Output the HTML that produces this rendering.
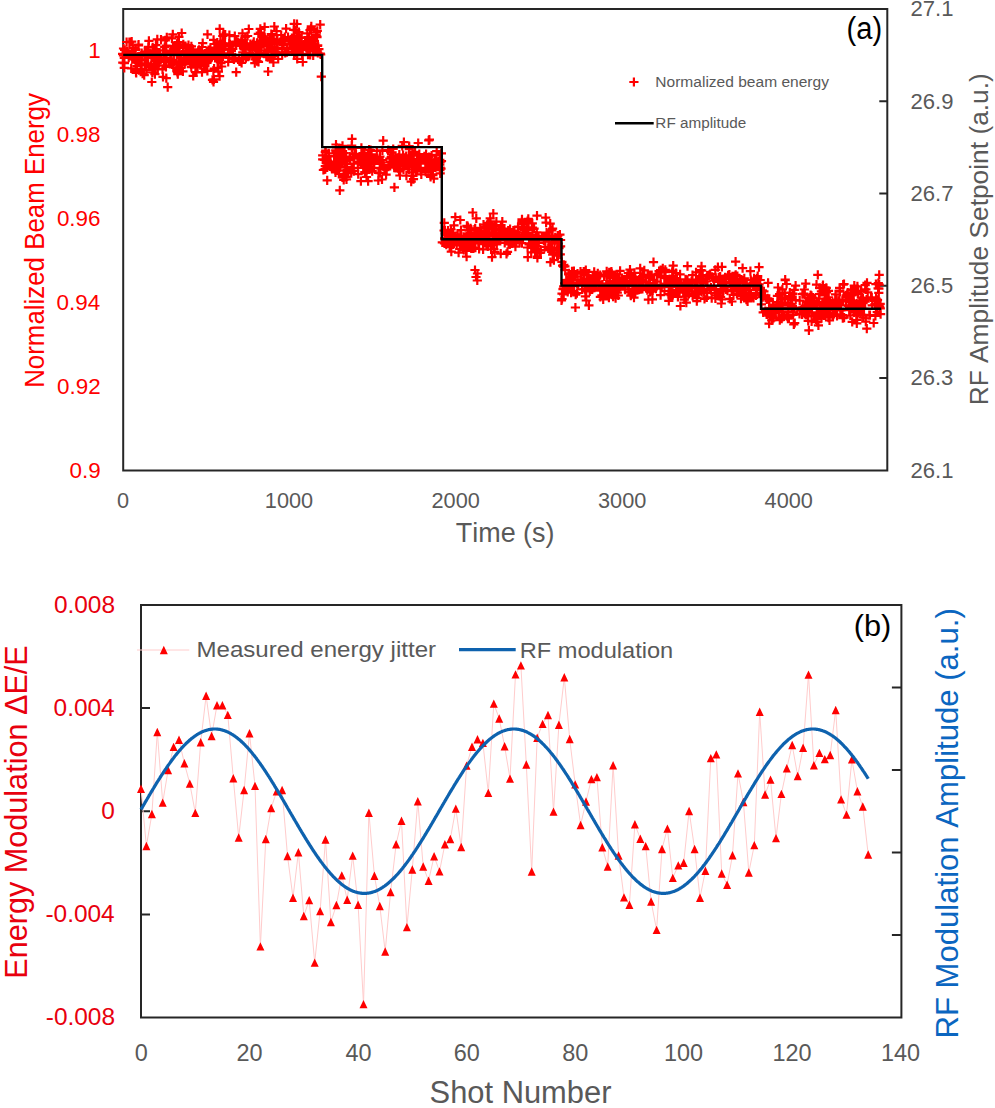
<!DOCTYPE html><html><head><meta charset="utf-8"><style>html,body{margin:0;padding:0;background:#fff;overflow:hidden}</style></head><body><svg width="995" height="1108" viewBox="0 0 995 1108" style="display:block;font-family:'Liberation Sans',sans-serif;font-kerning:none">
<rect width="995" height="1108" fill="#fff"/>
<path d="M123.2,9.0H887.3V470.4H123.2Z" fill="none" stroke="#262626" stroke-width="2"/>
<path d="M879.3,101.28H887.3M879.3,193.56H887.3M879.3,285.84H887.3M879.3,378.12H887.3" stroke="#262626" stroke-width="2"/>
<path d="M118.0,53.8h9.2m-4.6-4.6v9.2M118.2,62.7h9.2m-4.6-4.6v9.2M118.8,55.4h9.2m-4.6-4.6v9.2M118.9,48.5h9.2m-4.6-4.6v9.2M119.7,57.8h9.2m-4.6-4.6v9.2M119.7,67.9h9.2m-4.6-4.6v9.2M119.8,63.1h9.2m-4.6-4.6v9.2M120.0,50.0h9.2m-4.6-4.6v9.2M122.0,42.0h9.2m-4.6-4.6v9.2M122.3,51.3h9.2m-4.6-4.6v9.2M123.3,54.2h9.2m-4.6-4.6v9.2M124.1,57.7h9.2m-4.6-4.6v9.2M124.8,42.2h9.2m-4.6-4.6v9.2M124.8,55.6h9.2m-4.6-4.6v9.2M124.9,42.0h9.2m-4.6-4.6v9.2M125.1,53.8h9.2m-4.6-4.6v9.2M126.6,68.3h9.2m-4.6-4.6v9.2M126.8,54.9h9.2m-4.6-4.6v9.2M127.1,41.7h9.2m-4.6-4.6v9.2M127.4,52.1h9.2m-4.6-4.6v9.2M127.5,55.0h9.2m-4.6-4.6v9.2M128.2,47.8h9.2m-4.6-4.6v9.2M129.0,54.0h9.2m-4.6-4.6v9.2M129.2,55.6h9.2m-4.6-4.6v9.2M129.5,55.1h9.2m-4.6-4.6v9.2M130.3,59.7h9.2m-4.6-4.6v9.2M130.9,49.9h9.2m-4.6-4.6v9.2M131.1,62.6h9.2m-4.6-4.6v9.2M131.1,61.4h9.2m-4.6-4.6v9.2M131.1,49.4h9.2m-4.6-4.6v9.2M131.4,70.4h9.2m-4.6-4.6v9.2M131.4,71.8h9.2m-4.6-4.6v9.2M131.6,57.8h9.2m-4.6-4.6v9.2M131.6,72.8h9.2m-4.6-4.6v9.2M132.1,60.4h9.2m-4.6-4.6v9.2M132.5,66.0h9.2m-4.6-4.6v9.2M133.5,57.1h9.2m-4.6-4.6v9.2M133.8,45.5h9.2m-4.6-4.6v9.2M134.0,44.7h9.2m-4.6-4.6v9.2M134.1,57.8h9.2m-4.6-4.6v9.2M134.9,59.4h9.2m-4.6-4.6v9.2M134.9,56.4h9.2m-4.6-4.6v9.2M135.3,60.2h9.2m-4.6-4.6v9.2M136.1,68.9h9.2m-4.6-4.6v9.2M136.4,59.4h9.2m-4.6-4.6v9.2M137.0,60.5h9.2m-4.6-4.6v9.2M137.1,53.2h9.2m-4.6-4.6v9.2M137.1,64.8h9.2m-4.6-4.6v9.2M138.0,73.7h9.2m-4.6-4.6v9.2M139.6,75.2h9.2m-4.6-4.6v9.2M140.1,52.1h9.2m-4.6-4.6v9.2M140.2,64.6h9.2m-4.6-4.6v9.2M140.8,52.6h9.2m-4.6-4.6v9.2M141.0,65.5h9.2m-4.6-4.6v9.2M141.8,55.9h9.2m-4.6-4.6v9.2M142.0,70.2h9.2m-4.6-4.6v9.2M142.1,63.3h9.2m-4.6-4.6v9.2M142.2,53.3h9.2m-4.6-4.6v9.2M142.5,51.5h9.2m-4.6-4.6v9.2M142.8,55.1h9.2m-4.6-4.6v9.2M143.0,52.0h9.2m-4.6-4.6v9.2M143.6,57.9h9.2m-4.6-4.6v9.2M143.7,46.9h9.2m-4.6-4.6v9.2M144.3,40.9h9.2m-4.6-4.6v9.2M145.1,53.4h9.2m-4.6-4.6v9.2M146.4,65.8h9.2m-4.6-4.6v9.2M146.4,53.9h9.2m-4.6-4.6v9.2M146.8,57.0h9.2m-4.6-4.6v9.2M147.2,82.0h9.2m-4.6-4.6v9.2M147.7,72.5h9.2m-4.6-4.6v9.2M147.8,67.5h9.2m-4.6-4.6v9.2M148.0,67.9h9.2m-4.6-4.6v9.2M148.1,57.0h9.2m-4.6-4.6v9.2M148.1,47.3h9.2m-4.6-4.6v9.2M149.2,51.5h9.2m-4.6-4.6v9.2M149.7,53.5h9.2m-4.6-4.6v9.2M150.2,64.4h9.2m-4.6-4.6v9.2M150.2,67.9h9.2m-4.6-4.6v9.2M150.3,58.9h9.2m-4.6-4.6v9.2M150.3,74.1h9.2m-4.6-4.6v9.2M150.6,67.1h9.2m-4.6-4.6v9.2M150.9,52.3h9.2m-4.6-4.6v9.2M150.9,65.4h9.2m-4.6-4.6v9.2M151.3,45.1h9.2m-4.6-4.6v9.2M151.3,63.5h9.2m-4.6-4.6v9.2M151.3,65.8h9.2m-4.6-4.6v9.2M151.5,60.7h9.2m-4.6-4.6v9.2M151.5,49.0h9.2m-4.6-4.6v9.2M151.6,58.1h9.2m-4.6-4.6v9.2M151.7,60.8h9.2m-4.6-4.6v9.2M152.0,50.7h9.2m-4.6-4.6v9.2M152.5,57.2h9.2m-4.6-4.6v9.2M152.6,62.8h9.2m-4.6-4.6v9.2M152.7,39.3h9.2m-4.6-4.6v9.2M153.0,68.9h9.2m-4.6-4.6v9.2M153.0,59.6h9.2m-4.6-4.6v9.2M153.2,56.3h9.2m-4.6-4.6v9.2M153.2,68.9h9.2m-4.6-4.6v9.2M153.4,56.3h9.2m-4.6-4.6v9.2M153.5,57.8h9.2m-4.6-4.6v9.2M153.7,59.4h9.2m-4.6-4.6v9.2M155.1,58.5h9.2m-4.6-4.6v9.2M155.7,55.4h9.2m-4.6-4.6v9.2M156.2,58.1h9.2m-4.6-4.6v9.2M156.4,39.7h9.2m-4.6-4.6v9.2M157.9,69.3h9.2m-4.6-4.6v9.2M158.4,76.8h9.2m-4.6-4.6v9.2M158.5,50.3h9.2m-4.6-4.6v9.2M159.5,60.6h9.2m-4.6-4.6v9.2M159.7,53.8h9.2m-4.6-4.6v9.2M159.8,65.4h9.2m-4.6-4.6v9.2M160.0,53.8h9.2m-4.6-4.6v9.2M160.1,47.2h9.2m-4.6-4.6v9.2M160.2,59.0h9.2m-4.6-4.6v9.2M160.3,62.1h9.2m-4.6-4.6v9.2M160.4,55.2h9.2m-4.6-4.6v9.2M160.7,40.3h9.2m-4.6-4.6v9.2M161.3,66.9h9.2m-4.6-4.6v9.2M161.6,45.7h9.2m-4.6-4.6v9.2M161.7,78.1h9.2m-4.6-4.6v9.2M161.9,53.9h9.2m-4.6-4.6v9.2M161.9,57.8h9.2m-4.6-4.6v9.2M162.2,37.4h9.2m-4.6-4.6v9.2M163.1,87.1h9.2m-4.6-4.6v9.2M165.6,62.4h9.2m-4.6-4.6v9.2M165.7,58.5h9.2m-4.6-4.6v9.2M166.3,50.5h9.2m-4.6-4.6v9.2M166.4,59.9h9.2m-4.6-4.6v9.2M166.9,54.6h9.2m-4.6-4.6v9.2M167.1,51.8h9.2m-4.6-4.6v9.2M167.3,38.5h9.2m-4.6-4.6v9.2M167.3,51.0h9.2m-4.6-4.6v9.2M167.5,64.4h9.2m-4.6-4.6v9.2M168.2,46.2h9.2m-4.6-4.6v9.2M168.2,34.4h9.2m-4.6-4.6v9.2M168.7,67.3h9.2m-4.6-4.6v9.2M168.7,64.3h9.2m-4.6-4.6v9.2M169.1,48.8h9.2m-4.6-4.6v9.2M169.3,61.3h9.2m-4.6-4.6v9.2M169.4,54.3h9.2m-4.6-4.6v9.2M169.8,48.1h9.2m-4.6-4.6v9.2M169.8,51.8h9.2m-4.6-4.6v9.2M170.9,51.1h9.2m-4.6-4.6v9.2M171.7,63.3h9.2m-4.6-4.6v9.2M172.4,43.8h9.2m-4.6-4.6v9.2M172.4,54.6h9.2m-4.6-4.6v9.2M172.7,71.8h9.2m-4.6-4.6v9.2M172.8,44.4h9.2m-4.6-4.6v9.2M172.9,69.2h9.2m-4.6-4.6v9.2M172.9,44.8h9.2m-4.6-4.6v9.2M173.2,74.2h9.2m-4.6-4.6v9.2M173.4,42.0h9.2m-4.6-4.6v9.2M174.0,70.8h9.2m-4.6-4.6v9.2M174.1,61.9h9.2m-4.6-4.6v9.2M174.2,52.0h9.2m-4.6-4.6v9.2M174.3,36.8h9.2m-4.6-4.6v9.2M175.1,53.2h9.2m-4.6-4.6v9.2M175.2,62.3h9.2m-4.6-4.6v9.2M175.7,57.3h9.2m-4.6-4.6v9.2M176.1,67.9h9.2m-4.6-4.6v9.2M176.5,58.1h9.2m-4.6-4.6v9.2M177.1,33.0h9.2m-4.6-4.6v9.2M177.6,63.8h9.2m-4.6-4.6v9.2M178.3,71.3h9.2m-4.6-4.6v9.2M178.3,47.8h9.2m-4.6-4.6v9.2M178.5,45.9h9.2m-4.6-4.6v9.2M178.7,44.3h9.2m-4.6-4.6v9.2M178.8,61.7h9.2m-4.6-4.6v9.2M179.9,54.0h9.2m-4.6-4.6v9.2M180.2,63.8h9.2m-4.6-4.6v9.2M180.8,61.4h9.2m-4.6-4.6v9.2M180.9,46.2h9.2m-4.6-4.6v9.2M180.9,51.1h9.2m-4.6-4.6v9.2M181.8,51.9h9.2m-4.6-4.6v9.2M182.9,57.2h9.2m-4.6-4.6v9.2M183.5,54.4h9.2m-4.6-4.6v9.2M183.7,55.1h9.2m-4.6-4.6v9.2M183.8,52.4h9.2m-4.6-4.6v9.2M183.9,45.0h9.2m-4.6-4.6v9.2M184.1,51.3h9.2m-4.6-4.6v9.2M184.3,53.7h9.2m-4.6-4.6v9.2M184.4,49.7h9.2m-4.6-4.6v9.2M184.4,48.5h9.2m-4.6-4.6v9.2M185.0,58.3h9.2m-4.6-4.6v9.2M185.5,52.8h9.2m-4.6-4.6v9.2M185.6,63.5h9.2m-4.6-4.6v9.2M185.7,54.4h9.2m-4.6-4.6v9.2M185.8,55.6h9.2m-4.6-4.6v9.2M186.4,64.3h9.2m-4.6-4.6v9.2M186.7,67.2h9.2m-4.6-4.6v9.2M186.8,46.3h9.2m-4.6-4.6v9.2M186.9,58.0h9.2m-4.6-4.6v9.2M187.1,52.3h9.2m-4.6-4.6v9.2M187.8,55.6h9.2m-4.6-4.6v9.2M188.4,64.2h9.2m-4.6-4.6v9.2M188.5,49.4h9.2m-4.6-4.6v9.2M188.6,75.9h9.2m-4.6-4.6v9.2M188.7,56.1h9.2m-4.6-4.6v9.2M190.2,53.6h9.2m-4.6-4.6v9.2M190.8,72.2h9.2m-4.6-4.6v9.2M190.9,67.5h9.2m-4.6-4.6v9.2M191.0,58.0h9.2m-4.6-4.6v9.2M191.7,56.9h9.2m-4.6-4.6v9.2M191.8,72.5h9.2m-4.6-4.6v9.2M191.8,63.5h9.2m-4.6-4.6v9.2M192.1,60.1h9.2m-4.6-4.6v9.2M192.3,65.7h9.2m-4.6-4.6v9.2M193.0,66.5h9.2m-4.6-4.6v9.2M193.2,63.7h9.2m-4.6-4.6v9.2M193.3,61.1h9.2m-4.6-4.6v9.2M193.6,51.2h9.2m-4.6-4.6v9.2M193.8,54.9h9.2m-4.6-4.6v9.2M193.8,63.4h9.2m-4.6-4.6v9.2M194.0,52.6h9.2m-4.6-4.6v9.2M194.4,49.9h9.2m-4.6-4.6v9.2M194.6,57.0h9.2m-4.6-4.6v9.2M194.7,61.8h9.2m-4.6-4.6v9.2M195.7,51.2h9.2m-4.6-4.6v9.2M196.0,64.2h9.2m-4.6-4.6v9.2M197.1,54.7h9.2m-4.6-4.6v9.2M197.4,72.2h9.2m-4.6-4.6v9.2M197.4,47.0h9.2m-4.6-4.6v9.2M197.9,53.3h9.2m-4.6-4.6v9.2M198.1,43.2h9.2m-4.6-4.6v9.2M199.2,68.7h9.2m-4.6-4.6v9.2M200.0,58.1h9.2m-4.6-4.6v9.2M200.3,66.0h9.2m-4.6-4.6v9.2M200.4,63.6h9.2m-4.6-4.6v9.2M201.0,59.4h9.2m-4.6-4.6v9.2M202.0,52.3h9.2m-4.6-4.6v9.2M202.0,60.5h9.2m-4.6-4.6v9.2M202.4,51.8h9.2m-4.6-4.6v9.2M202.4,62.9h9.2m-4.6-4.6v9.2M202.6,55.0h9.2m-4.6-4.6v9.2M202.6,51.3h9.2m-4.6-4.6v9.2M202.8,61.3h9.2m-4.6-4.6v9.2M202.8,70.8h9.2m-4.6-4.6v9.2M202.9,34.3h9.2m-4.6-4.6v9.2M203.1,56.6h9.2m-4.6-4.6v9.2M203.1,59.4h9.2m-4.6-4.6v9.2M203.2,61.2h9.2m-4.6-4.6v9.2M203.8,60.4h9.2m-4.6-4.6v9.2M204.0,50.2h9.2m-4.6-4.6v9.2M204.5,50.7h9.2m-4.6-4.6v9.2M204.5,57.6h9.2m-4.6-4.6v9.2M204.9,54.0h9.2m-4.6-4.6v9.2M205.6,54.6h9.2m-4.6-4.6v9.2M205.8,47.8h9.2m-4.6-4.6v9.2M205.8,52.1h9.2m-4.6-4.6v9.2M207.8,55.6h9.2m-4.6-4.6v9.2M207.9,79.8h9.2m-4.6-4.6v9.2M208.0,51.9h9.2m-4.6-4.6v9.2M208.6,52.6h9.2m-4.6-4.6v9.2M208.8,70.5h9.2m-4.6-4.6v9.2M208.9,81.8h9.2m-4.6-4.6v9.2M209.0,39.9h9.2m-4.6-4.6v9.2M209.3,51.0h9.2m-4.6-4.6v9.2M209.3,79.3h9.2m-4.6-4.6v9.2M209.5,68.5h9.2m-4.6-4.6v9.2M209.9,55.5h9.2m-4.6-4.6v9.2M210.0,44.0h9.2m-4.6-4.6v9.2M210.5,56.1h9.2m-4.6-4.6v9.2M211.0,50.1h9.2m-4.6-4.6v9.2M211.3,47.7h9.2m-4.6-4.6v9.2M211.6,49.9h9.2m-4.6-4.6v9.2M212.3,58.7h9.2m-4.6-4.6v9.2M212.5,54.6h9.2m-4.6-4.6v9.2M212.7,42.7h9.2m-4.6-4.6v9.2M212.9,56.1h9.2m-4.6-4.6v9.2M213.0,67.8h9.2m-4.6-4.6v9.2M213.2,51.6h9.2m-4.6-4.6v9.2M213.3,45.8h9.2m-4.6-4.6v9.2M213.7,54.1h9.2m-4.6-4.6v9.2M213.8,71.7h9.2m-4.6-4.6v9.2M214.0,61.5h9.2m-4.6-4.6v9.2M214.2,53.0h9.2m-4.6-4.6v9.2M214.5,58.4h9.2m-4.6-4.6v9.2M215.0,76.1h9.2m-4.6-4.6v9.2M215.1,28.9h9.2m-4.6-4.6v9.2M215.3,56.7h9.2m-4.6-4.6v9.2M215.5,44.4h9.2m-4.6-4.6v9.2M215.8,41.3h9.2m-4.6-4.6v9.2M216.1,48.1h9.2m-4.6-4.6v9.2M216.3,56.8h9.2m-4.6-4.6v9.2M216.4,63.2h9.2m-4.6-4.6v9.2M216.5,44.2h9.2m-4.6-4.6v9.2M216.6,47.9h9.2m-4.6-4.6v9.2M217.1,66.5h9.2m-4.6-4.6v9.2M218.1,49.3h9.2m-4.6-4.6v9.2M218.2,36.0h9.2m-4.6-4.6v9.2M218.4,56.7h9.2m-4.6-4.6v9.2M218.8,34.3h9.2m-4.6-4.6v9.2M219.6,53.3h9.2m-4.6-4.6v9.2M220.4,43.3h9.2m-4.6-4.6v9.2M220.6,34.7h9.2m-4.6-4.6v9.2M220.9,46.5h9.2m-4.6-4.6v9.2M223.6,61.9h9.2m-4.6-4.6v9.2M224.1,49.0h9.2m-4.6-4.6v9.2M224.2,58.0h9.2m-4.6-4.6v9.2M224.6,45.9h9.2m-4.6-4.6v9.2M224.6,43.7h9.2m-4.6-4.6v9.2M224.8,53.4h9.2m-4.6-4.6v9.2M224.8,35.1h9.2m-4.6-4.6v9.2M225.5,44.4h9.2m-4.6-4.6v9.2M226.5,45.6h9.2m-4.6-4.6v9.2M226.6,45.4h9.2m-4.6-4.6v9.2M226.8,51.2h9.2m-4.6-4.6v9.2M227.8,57.5h9.2m-4.6-4.6v9.2M228.2,49.0h9.2m-4.6-4.6v9.2M229.3,59.3h9.2m-4.6-4.6v9.2M230.2,36.2h9.2m-4.6-4.6v9.2M230.6,57.6h9.2m-4.6-4.6v9.2M230.9,44.7h9.2m-4.6-4.6v9.2M231.6,72.1h9.2m-4.6-4.6v9.2M231.6,44.4h9.2m-4.6-4.6v9.2M231.9,41.5h9.2m-4.6-4.6v9.2M233.2,42.4h9.2m-4.6-4.6v9.2M234.4,60.0h9.2m-4.6-4.6v9.2M234.9,61.5h9.2m-4.6-4.6v9.2M235.3,44.6h9.2m-4.6-4.6v9.2M236.7,41.3h9.2m-4.6-4.6v9.2M237.0,62.8h9.2m-4.6-4.6v9.2M237.0,39.6h9.2m-4.6-4.6v9.2M237.4,42.9h9.2m-4.6-4.6v9.2M237.5,57.7h9.2m-4.6-4.6v9.2M237.6,59.4h9.2m-4.6-4.6v9.2M237.6,40.6h9.2m-4.6-4.6v9.2M237.9,33.4h9.2m-4.6-4.6v9.2M238.2,52.4h9.2m-4.6-4.6v9.2M239.5,49.3h9.2m-4.6-4.6v9.2M240.6,47.8h9.2m-4.6-4.6v9.2M240.6,36.8h9.2m-4.6-4.6v9.2M240.9,49.6h9.2m-4.6-4.6v9.2M241.0,45.6h9.2m-4.6-4.6v9.2M241.0,48.6h9.2m-4.6-4.6v9.2M241.3,58.1h9.2m-4.6-4.6v9.2M242.2,43.3h9.2m-4.6-4.6v9.2M243.0,36.0h9.2m-4.6-4.6v9.2M243.5,56.7h9.2m-4.6-4.6v9.2M244.2,29.0h9.2m-4.6-4.6v9.2M244.5,55.8h9.2m-4.6-4.6v9.2M245.2,49.4h9.2m-4.6-4.6v9.2M245.3,52.6h9.2m-4.6-4.6v9.2M245.7,44.2h9.2m-4.6-4.6v9.2M247.6,49.9h9.2m-4.6-4.6v9.2M247.9,54.2h9.2m-4.6-4.6v9.2M248.1,45.3h9.2m-4.6-4.6v9.2M248.3,44.0h9.2m-4.6-4.6v9.2M248.9,56.5h9.2m-4.6-4.6v9.2M249.2,41.9h9.2m-4.6-4.6v9.2M250.2,63.1h9.2m-4.6-4.6v9.2M250.2,46.4h9.2m-4.6-4.6v9.2M250.4,47.1h9.2m-4.6-4.6v9.2M250.7,59.4h9.2m-4.6-4.6v9.2M250.9,47.3h9.2m-4.6-4.6v9.2M251.3,56.7h9.2m-4.6-4.6v9.2M251.8,58.6h9.2m-4.6-4.6v9.2M252.2,48.4h9.2m-4.6-4.6v9.2M252.4,42.9h9.2m-4.6-4.6v9.2M252.5,61.1h9.2m-4.6-4.6v9.2M253.7,33.9h9.2m-4.6-4.6v9.2M253.9,61.9h9.2m-4.6-4.6v9.2M254.2,44.4h9.2m-4.6-4.6v9.2M254.5,50.4h9.2m-4.6-4.6v9.2M254.7,45.7h9.2m-4.6-4.6v9.2M255.7,28.9h9.2m-4.6-4.6v9.2M255.7,32.5h9.2m-4.6-4.6v9.2M256.4,33.4h9.2m-4.6-4.6v9.2M256.4,40.4h9.2m-4.6-4.6v9.2M256.7,52.9h9.2m-4.6-4.6v9.2M256.7,45.8h9.2m-4.6-4.6v9.2M257.9,36.8h9.2m-4.6-4.6v9.2M258.6,44.2h9.2m-4.6-4.6v9.2M258.9,39.0h9.2m-4.6-4.6v9.2M259.1,42.7h9.2m-4.6-4.6v9.2M259.2,43.9h9.2m-4.6-4.6v9.2M259.7,40.2h9.2m-4.6-4.6v9.2M260.0,27.0h9.2m-4.6-4.6v9.2M260.2,37.9h9.2m-4.6-4.6v9.2M261.7,56.7h9.2m-4.6-4.6v9.2M261.8,44.0h9.2m-4.6-4.6v9.2M262.1,39.9h9.2m-4.6-4.6v9.2M262.6,45.1h9.2m-4.6-4.6v9.2M263.0,50.9h9.2m-4.6-4.6v9.2M263.1,57.1h9.2m-4.6-4.6v9.2M263.5,49.5h9.2m-4.6-4.6v9.2M263.5,71.5h9.2m-4.6-4.6v9.2M263.7,49.9h9.2m-4.6-4.6v9.2M264.0,56.4h9.2m-4.6-4.6v9.2M264.9,38.5h9.2m-4.6-4.6v9.2M265.5,58.6h9.2m-4.6-4.6v9.2M265.6,48.5h9.2m-4.6-4.6v9.2M265.7,42.2h9.2m-4.6-4.6v9.2M266.0,43.6h9.2m-4.6-4.6v9.2M266.6,57.2h9.2m-4.6-4.6v9.2M266.7,34.2h9.2m-4.6-4.6v9.2M266.9,41.7h9.2m-4.6-4.6v9.2M267.3,47.5h9.2m-4.6-4.6v9.2M267.3,35.3h9.2m-4.6-4.6v9.2M267.7,46.7h9.2m-4.6-4.6v9.2M268.4,50.3h9.2m-4.6-4.6v9.2M268.7,51.5h9.2m-4.6-4.6v9.2M268.8,62.5h9.2m-4.6-4.6v9.2M269.1,38.5h9.2m-4.6-4.6v9.2M269.7,26.5h9.2m-4.6-4.6v9.2M270.0,48.8h9.2m-4.6-4.6v9.2M270.8,51.6h9.2m-4.6-4.6v9.2M271.5,52.9h9.2m-4.6-4.6v9.2M272.0,31.1h9.2m-4.6-4.6v9.2M272.3,48.0h9.2m-4.6-4.6v9.2M272.5,39.3h9.2m-4.6-4.6v9.2M272.6,43.7h9.2m-4.6-4.6v9.2M272.8,39.3h9.2m-4.6-4.6v9.2M273.1,48.3h9.2m-4.6-4.6v9.2M273.6,59.0h9.2m-4.6-4.6v9.2M276.6,41.5h9.2m-4.6-4.6v9.2M276.6,35.0h9.2m-4.6-4.6v9.2M277.6,54.9h9.2m-4.6-4.6v9.2M277.6,49.0h9.2m-4.6-4.6v9.2M278.8,39.8h9.2m-4.6-4.6v9.2M278.9,45.4h9.2m-4.6-4.6v9.2M279.0,38.7h9.2m-4.6-4.6v9.2M279.2,40.0h9.2m-4.6-4.6v9.2M279.8,38.7h9.2m-4.6-4.6v9.2M280.2,37.0h9.2m-4.6-4.6v9.2M280.2,51.5h9.2m-4.6-4.6v9.2M280.6,53.0h9.2m-4.6-4.6v9.2M281.5,28.6h9.2m-4.6-4.6v9.2M282.4,52.2h9.2m-4.6-4.6v9.2M282.4,48.1h9.2m-4.6-4.6v9.2M283.4,37.2h9.2m-4.6-4.6v9.2M284.8,44.1h9.2m-4.6-4.6v9.2M285.4,41.1h9.2m-4.6-4.6v9.2M285.5,43.6h9.2m-4.6-4.6v9.2M285.9,39.9h9.2m-4.6-4.6v9.2M287.3,38.2h9.2m-4.6-4.6v9.2M287.7,41.4h9.2m-4.6-4.6v9.2M288.0,49.3h9.2m-4.6-4.6v9.2M288.7,39.2h9.2m-4.6-4.6v9.2M289.1,29.9h9.2m-4.6-4.6v9.2M289.2,46.0h9.2m-4.6-4.6v9.2M289.5,54.7h9.2m-4.6-4.6v9.2M289.5,37.5h9.2m-4.6-4.6v9.2M289.6,23.8h9.2m-4.6-4.6v9.2M289.6,36.0h9.2m-4.6-4.6v9.2M290.4,52.5h9.2m-4.6-4.6v9.2M290.4,52.2h9.2m-4.6-4.6v9.2M290.7,51.4h9.2m-4.6-4.6v9.2M291.0,42.8h9.2m-4.6-4.6v9.2M291.1,30.1h9.2m-4.6-4.6v9.2M292.0,54.5h9.2m-4.6-4.6v9.2M292.2,41.1h9.2m-4.6-4.6v9.2M292.4,24.0h9.2m-4.6-4.6v9.2M292.6,58.9h9.2m-4.6-4.6v9.2M292.6,37.2h9.2m-4.6-4.6v9.2M293.1,41.6h9.2m-4.6-4.6v9.2M293.1,50.8h9.2m-4.6-4.6v9.2M293.5,42.7h9.2m-4.6-4.6v9.2M293.7,43.4h9.2m-4.6-4.6v9.2M293.8,51.1h9.2m-4.6-4.6v9.2M294.3,32.1h9.2m-4.6-4.6v9.2M294.4,42.6h9.2m-4.6-4.6v9.2M295.8,48.2h9.2m-4.6-4.6v9.2M296.3,38.0h9.2m-4.6-4.6v9.2M296.5,47.5h9.2m-4.6-4.6v9.2M297.1,37.7h9.2m-4.6-4.6v9.2M297.5,55.2h9.2m-4.6-4.6v9.2M297.7,47.7h9.2m-4.6-4.6v9.2M297.8,48.2h9.2m-4.6-4.6v9.2M298.1,53.9h9.2m-4.6-4.6v9.2M298.2,49.0h9.2m-4.6-4.6v9.2M298.2,62.0h9.2m-4.6-4.6v9.2M298.3,44.9h9.2m-4.6-4.6v9.2M299.5,44.5h9.2m-4.6-4.6v9.2M300.5,43.1h9.2m-4.6-4.6v9.2M300.9,43.9h9.2m-4.6-4.6v9.2M301.1,46.8h9.2m-4.6-4.6v9.2M302.7,33.3h9.2m-4.6-4.6v9.2M302.8,50.0h9.2m-4.6-4.6v9.2M303.3,37.1h9.2m-4.6-4.6v9.2M303.4,54.7h9.2m-4.6-4.6v9.2M303.7,48.4h9.2m-4.6-4.6v9.2M304.1,54.7h9.2m-4.6-4.6v9.2M304.5,38.2h9.2m-4.6-4.6v9.2M305.3,51.5h9.2m-4.6-4.6v9.2M305.4,30.2h9.2m-4.6-4.6v9.2M305.6,55.0h9.2m-4.6-4.6v9.2M305.6,40.4h9.2m-4.6-4.6v9.2M305.6,41.9h9.2m-4.6-4.6v9.2M306.2,40.7h9.2m-4.6-4.6v9.2M306.4,28.6h9.2m-4.6-4.6v9.2M306.7,45.6h9.2m-4.6-4.6v9.2M306.7,26.3h9.2m-4.6-4.6v9.2M306.8,42.5h9.2m-4.6-4.6v9.2M307.3,39.0h9.2m-4.6-4.6v9.2M308.5,49.2h9.2m-4.6-4.6v9.2M308.6,55.3h9.2m-4.6-4.6v9.2M309.8,40.9h9.2m-4.6-4.6v9.2M310.0,44.1h9.2m-4.6-4.6v9.2M310.0,43.4h9.2m-4.6-4.6v9.2M310.1,50.8h9.2m-4.6-4.6v9.2M310.2,43.7h9.2m-4.6-4.6v9.2M310.7,47.1h9.2m-4.6-4.6v9.2M310.7,48.3h9.2m-4.6-4.6v9.2M311.5,35.0h9.2m-4.6-4.6v9.2M311.8,32.7h9.2m-4.6-4.6v9.2M312.1,36.4h9.2m-4.6-4.6v9.2M312.2,50.8h9.2m-4.6-4.6v9.2M312.2,49.1h9.2m-4.6-4.6v9.2M312.3,51.4h9.2m-4.6-4.6v9.2M312.4,37.1h9.2m-4.6-4.6v9.2M312.7,30.9h9.2m-4.6-4.6v9.2M312.9,46.0h9.2m-4.6-4.6v9.2M313.1,45.4h9.2m-4.6-4.6v9.2M313.2,52.8h9.2m-4.6-4.6v9.2M314.3,49.2h9.2m-4.6-4.6v9.2M315.6,24.6h9.2m-4.6-4.6v9.2M315.7,53.7h9.2m-4.6-4.6v9.2M316.1,54.5h9.2m-4.6-4.6v9.2M316.7,76.7h9.2m-4.6-4.6v9.2M318.1,159.3h9.2m-4.6-4.6v9.2M318.1,155.4h9.2m-4.6-4.6v9.2M318.8,170.0h9.2m-4.6-4.6v9.2M319.7,169.5h9.2m-4.6-4.6v9.2M319.8,159.8h9.2m-4.6-4.6v9.2M320.7,152.2h9.2m-4.6-4.6v9.2M320.7,169.2h9.2m-4.6-4.6v9.2M320.7,166.1h9.2m-4.6-4.6v9.2M321.1,150.5h9.2m-4.6-4.6v9.2M321.4,160.0h9.2m-4.6-4.6v9.2M322.6,167.4h9.2m-4.6-4.6v9.2M322.6,180.4h9.2m-4.6-4.6v9.2M322.6,163.6h9.2m-4.6-4.6v9.2M322.9,161.0h9.2m-4.6-4.6v9.2M324.1,153.3h9.2m-4.6-4.6v9.2M324.4,156.1h9.2m-4.6-4.6v9.2M325.5,166.3h9.2m-4.6-4.6v9.2M325.9,161.7h9.2m-4.6-4.6v9.2M326.3,164.2h9.2m-4.6-4.6v9.2M327.1,167.7h9.2m-4.6-4.6v9.2M329.5,156.3h9.2m-4.6-4.6v9.2M329.9,163.7h9.2m-4.6-4.6v9.2M330.2,162.1h9.2m-4.6-4.6v9.2M330.7,170.0h9.2m-4.6-4.6v9.2M330.9,172.3h9.2m-4.6-4.6v9.2M330.9,171.5h9.2m-4.6-4.6v9.2M330.9,165.7h9.2m-4.6-4.6v9.2M331.1,150.4h9.2m-4.6-4.6v9.2M331.3,164.7h9.2m-4.6-4.6v9.2M331.4,144.5h9.2m-4.6-4.6v9.2M331.5,152.7h9.2m-4.6-4.6v9.2M331.9,147.5h9.2m-4.6-4.6v9.2M332.0,151.5h9.2m-4.6-4.6v9.2M332.0,163.1h9.2m-4.6-4.6v9.2M332.2,161.6h9.2m-4.6-4.6v9.2M332.4,169.6h9.2m-4.6-4.6v9.2M332.8,166.9h9.2m-4.6-4.6v9.2M333.6,162.3h9.2m-4.6-4.6v9.2M333.9,163.2h9.2m-4.6-4.6v9.2M334.2,173.9h9.2m-4.6-4.6v9.2M335.1,167.4h9.2m-4.6-4.6v9.2M335.2,154.1h9.2m-4.6-4.6v9.2M335.2,190.4h9.2m-4.6-4.6v9.2M335.3,158.2h9.2m-4.6-4.6v9.2M335.4,156.1h9.2m-4.6-4.6v9.2M335.4,166.3h9.2m-4.6-4.6v9.2M335.5,166.5h9.2m-4.6-4.6v9.2M335.8,148.5h9.2m-4.6-4.6v9.2M336.5,148.8h9.2m-4.6-4.6v9.2M337.0,163.5h9.2m-4.6-4.6v9.2M337.6,158.6h9.2m-4.6-4.6v9.2M337.8,177.5h9.2m-4.6-4.6v9.2M337.8,160.7h9.2m-4.6-4.6v9.2M337.9,153.2h9.2m-4.6-4.6v9.2M337.9,145.9h9.2m-4.6-4.6v9.2M337.9,151.1h9.2m-4.6-4.6v9.2M338.0,154.5h9.2m-4.6-4.6v9.2M339.0,175.5h9.2m-4.6-4.6v9.2M339.1,179.8h9.2m-4.6-4.6v9.2M339.3,153.1h9.2m-4.6-4.6v9.2M340.3,161.5h9.2m-4.6-4.6v9.2M340.7,170.6h9.2m-4.6-4.6v9.2M340.9,161.3h9.2m-4.6-4.6v9.2M341.1,158.3h9.2m-4.6-4.6v9.2M341.1,156.5h9.2m-4.6-4.6v9.2M341.3,176.8h9.2m-4.6-4.6v9.2M341.5,158.3h9.2m-4.6-4.6v9.2M341.9,179.4h9.2m-4.6-4.6v9.2M342.2,161.2h9.2m-4.6-4.6v9.2M342.2,163.8h9.2m-4.6-4.6v9.2M342.3,166.8h9.2m-4.6-4.6v9.2M342.4,169.9h9.2m-4.6-4.6v9.2M343.7,171.5h9.2m-4.6-4.6v9.2M345.1,156.5h9.2m-4.6-4.6v9.2M345.3,160.0h9.2m-4.6-4.6v9.2M345.3,159.2h9.2m-4.6-4.6v9.2M346.6,173.1h9.2m-4.6-4.6v9.2M347.0,168.3h9.2m-4.6-4.6v9.2M347.1,145.7h9.2m-4.6-4.6v9.2M347.2,147.6h9.2m-4.6-4.6v9.2M347.4,138.8h9.2m-4.6-4.6v9.2M347.7,149.1h9.2m-4.6-4.6v9.2M348.4,156.8h9.2m-4.6-4.6v9.2M349.2,163.7h9.2m-4.6-4.6v9.2M349.2,171.2h9.2m-4.6-4.6v9.2M349.3,158.3h9.2m-4.6-4.6v9.2M350.2,153.9h9.2m-4.6-4.6v9.2M351.4,154.6h9.2m-4.6-4.6v9.2M353.1,158.1h9.2m-4.6-4.6v9.2M353.2,167.8h9.2m-4.6-4.6v9.2M353.6,174.2h9.2m-4.6-4.6v9.2M353.8,161.7h9.2m-4.6-4.6v9.2M355.2,158.6h9.2m-4.6-4.6v9.2M356.3,181.2h9.2m-4.6-4.6v9.2M356.8,147.8h9.2m-4.6-4.6v9.2M357.2,158.6h9.2m-4.6-4.6v9.2M357.7,159.7h9.2m-4.6-4.6v9.2M357.7,162.9h9.2m-4.6-4.6v9.2M358.3,163.8h9.2m-4.6-4.6v9.2M358.4,153.2h9.2m-4.6-4.6v9.2M359.2,163.0h9.2m-4.6-4.6v9.2M359.3,165.5h9.2m-4.6-4.6v9.2M360.0,153.4h9.2m-4.6-4.6v9.2M360.1,166.0h9.2m-4.6-4.6v9.2M360.2,172.2h9.2m-4.6-4.6v9.2M360.4,163.9h9.2m-4.6-4.6v9.2M360.5,158.8h9.2m-4.6-4.6v9.2M361.5,172.8h9.2m-4.6-4.6v9.2M361.6,168.0h9.2m-4.6-4.6v9.2M361.9,177.0h9.2m-4.6-4.6v9.2M362.1,170.2h9.2m-4.6-4.6v9.2M362.1,157.9h9.2m-4.6-4.6v9.2M362.7,169.1h9.2m-4.6-4.6v9.2M363.3,155.8h9.2m-4.6-4.6v9.2M363.5,181.2h9.2m-4.6-4.6v9.2M363.9,168.1h9.2m-4.6-4.6v9.2M364.2,156.7h9.2m-4.6-4.6v9.2M364.5,149.6h9.2m-4.6-4.6v9.2M364.9,169.5h9.2m-4.6-4.6v9.2M365.0,163.9h9.2m-4.6-4.6v9.2M365.0,160.7h9.2m-4.6-4.6v9.2M365.2,161.3h9.2m-4.6-4.6v9.2M365.5,156.6h9.2m-4.6-4.6v9.2M365.6,168.4h9.2m-4.6-4.6v9.2M366.0,150.1h9.2m-4.6-4.6v9.2M366.1,154.4h9.2m-4.6-4.6v9.2M366.2,166.6h9.2m-4.6-4.6v9.2M366.7,160.6h9.2m-4.6-4.6v9.2M367.0,154.3h9.2m-4.6-4.6v9.2M367.6,171.2h9.2m-4.6-4.6v9.2M368.7,161.4h9.2m-4.6-4.6v9.2M368.7,160.5h9.2m-4.6-4.6v9.2M369.1,158.8h9.2m-4.6-4.6v9.2M369.4,168.2h9.2m-4.6-4.6v9.2M369.7,163.6h9.2m-4.6-4.6v9.2M370.3,159.5h9.2m-4.6-4.6v9.2M370.3,158.5h9.2m-4.6-4.6v9.2M372.2,151.0h9.2m-4.6-4.6v9.2M372.7,158.3h9.2m-4.6-4.6v9.2M373.7,180.5h9.2m-4.6-4.6v9.2M373.9,172.8h9.2m-4.6-4.6v9.2M375.3,156.6h9.2m-4.6-4.6v9.2M375.3,161.4h9.2m-4.6-4.6v9.2M375.4,173.1h9.2m-4.6-4.6v9.2M375.5,164.0h9.2m-4.6-4.6v9.2M375.6,167.8h9.2m-4.6-4.6v9.2M375.9,168.4h9.2m-4.6-4.6v9.2M376.6,162.6h9.2m-4.6-4.6v9.2M377.4,179.5h9.2m-4.6-4.6v9.2M377.8,150.3h9.2m-4.6-4.6v9.2M378.0,160.0h9.2m-4.6-4.6v9.2M378.6,165.6h9.2m-4.6-4.6v9.2M378.6,140.6h9.2m-4.6-4.6v9.2M378.7,166.3h9.2m-4.6-4.6v9.2M379.1,165.1h9.2m-4.6-4.6v9.2M379.8,169.2h9.2m-4.6-4.6v9.2M381.5,174.6h9.2m-4.6-4.6v9.2M382.1,169.4h9.2m-4.6-4.6v9.2M383.5,150.9h9.2m-4.6-4.6v9.2M383.7,150.2h9.2m-4.6-4.6v9.2M383.8,166.7h9.2m-4.6-4.6v9.2M385.2,158.7h9.2m-4.6-4.6v9.2M385.5,161.6h9.2m-4.6-4.6v9.2M386.0,162.5h9.2m-4.6-4.6v9.2M386.1,152.4h9.2m-4.6-4.6v9.2M386.5,152.4h9.2m-4.6-4.6v9.2M386.6,157.0h9.2m-4.6-4.6v9.2M387.2,162.2h9.2m-4.6-4.6v9.2M388.0,161.8h9.2m-4.6-4.6v9.2M388.1,158.1h9.2m-4.6-4.6v9.2M388.6,149.0h9.2m-4.6-4.6v9.2M388.7,157.9h9.2m-4.6-4.6v9.2M389.0,161.5h9.2m-4.6-4.6v9.2M389.3,165.2h9.2m-4.6-4.6v9.2M389.6,167.7h9.2m-4.6-4.6v9.2M389.8,187.4h9.2m-4.6-4.6v9.2M391.0,155.9h9.2m-4.6-4.6v9.2M391.1,166.2h9.2m-4.6-4.6v9.2M391.5,164.1h9.2m-4.6-4.6v9.2M392.1,163.2h9.2m-4.6-4.6v9.2M393.7,161.5h9.2m-4.6-4.6v9.2M393.8,168.3h9.2m-4.6-4.6v9.2M393.9,157.7h9.2m-4.6-4.6v9.2M394.1,159.8h9.2m-4.6-4.6v9.2M394.4,171.5h9.2m-4.6-4.6v9.2M394.5,158.1h9.2m-4.6-4.6v9.2M394.6,160.7h9.2m-4.6-4.6v9.2M394.7,154.6h9.2m-4.6-4.6v9.2M395.3,175.5h9.2m-4.6-4.6v9.2M395.6,169.7h9.2m-4.6-4.6v9.2M395.8,163.6h9.2m-4.6-4.6v9.2M396.1,161.9h9.2m-4.6-4.6v9.2M396.6,160.4h9.2m-4.6-4.6v9.2M397.6,145.8h9.2m-4.6-4.6v9.2M398.1,159.8h9.2m-4.6-4.6v9.2M398.1,159.4h9.2m-4.6-4.6v9.2M398.4,164.3h9.2m-4.6-4.6v9.2M398.5,155.2h9.2m-4.6-4.6v9.2M398.9,169.3h9.2m-4.6-4.6v9.2M399.0,164.7h9.2m-4.6-4.6v9.2M399.1,158.9h9.2m-4.6-4.6v9.2M399.3,142.1h9.2m-4.6-4.6v9.2M399.9,165.0h9.2m-4.6-4.6v9.2M400.7,157.9h9.2m-4.6-4.6v9.2M401.0,163.8h9.2m-4.6-4.6v9.2M401.0,166.0h9.2m-4.6-4.6v9.2M401.6,156.2h9.2m-4.6-4.6v9.2M401.8,175.7h9.2m-4.6-4.6v9.2M401.9,164.3h9.2m-4.6-4.6v9.2M403.6,166.9h9.2m-4.6-4.6v9.2M403.8,164.4h9.2m-4.6-4.6v9.2M404.3,156.6h9.2m-4.6-4.6v9.2M404.5,169.5h9.2m-4.6-4.6v9.2M404.5,146.1h9.2m-4.6-4.6v9.2M404.6,146.5h9.2m-4.6-4.6v9.2M404.7,149.1h9.2m-4.6-4.6v9.2M405.4,162.1h9.2m-4.6-4.6v9.2M405.7,159.7h9.2m-4.6-4.6v9.2M406.6,181.6h9.2m-4.6-4.6v9.2M407.2,172.3h9.2m-4.6-4.6v9.2M407.3,160.5h9.2m-4.6-4.6v9.2M407.8,152.2h9.2m-4.6-4.6v9.2M408.0,164.7h9.2m-4.6-4.6v9.2M408.0,164.5h9.2m-4.6-4.6v9.2M408.2,152.9h9.2m-4.6-4.6v9.2M408.4,175.9h9.2m-4.6-4.6v9.2M408.8,162.9h9.2m-4.6-4.6v9.2M408.9,179.1h9.2m-4.6-4.6v9.2M409.1,159.7h9.2m-4.6-4.6v9.2M409.1,164.6h9.2m-4.6-4.6v9.2M409.1,154.7h9.2m-4.6-4.6v9.2M410.2,164.2h9.2m-4.6-4.6v9.2M410.4,168.5h9.2m-4.6-4.6v9.2M410.5,151.9h9.2m-4.6-4.6v9.2M411.2,170.4h9.2m-4.6-4.6v9.2M412.4,158.8h9.2m-4.6-4.6v9.2M412.6,155.6h9.2m-4.6-4.6v9.2M412.7,169.9h9.2m-4.6-4.6v9.2M413.2,162.0h9.2m-4.6-4.6v9.2M413.6,143.0h9.2m-4.6-4.6v9.2M414.1,162.6h9.2m-4.6-4.6v9.2M414.7,154.0h9.2m-4.6-4.6v9.2M414.9,161.5h9.2m-4.6-4.6v9.2M415.6,167.9h9.2m-4.6-4.6v9.2M415.7,159.9h9.2m-4.6-4.6v9.2M416.1,169.0h9.2m-4.6-4.6v9.2M416.5,171.5h9.2m-4.6-4.6v9.2M416.7,174.3h9.2m-4.6-4.6v9.2M418.1,159.8h9.2m-4.6-4.6v9.2M419.8,156.4h9.2m-4.6-4.6v9.2M420.7,163.6h9.2m-4.6-4.6v9.2M420.9,169.5h9.2m-4.6-4.6v9.2M421.1,171.9h9.2m-4.6-4.6v9.2M421.1,159.2h9.2m-4.6-4.6v9.2M421.5,154.2h9.2m-4.6-4.6v9.2M421.5,158.6h9.2m-4.6-4.6v9.2M422.3,161.5h9.2m-4.6-4.6v9.2M422.9,162.2h9.2m-4.6-4.6v9.2M423.0,168.8h9.2m-4.6-4.6v9.2M423.1,161.6h9.2m-4.6-4.6v9.2M423.2,160.5h9.2m-4.6-4.6v9.2M424.1,140.4h9.2m-4.6-4.6v9.2M424.2,166.5h9.2m-4.6-4.6v9.2M424.4,157.0h9.2m-4.6-4.6v9.2M424.8,139.6h9.2m-4.6-4.6v9.2M426.0,160.9h9.2m-4.6-4.6v9.2M426.0,177.0h9.2m-4.6-4.6v9.2M426.1,175.2h9.2m-4.6-4.6v9.2M426.7,162.7h9.2m-4.6-4.6v9.2M427.0,155.6h9.2m-4.6-4.6v9.2M427.3,174.3h9.2m-4.6-4.6v9.2M427.3,170.8h9.2m-4.6-4.6v9.2M427.8,168.7h9.2m-4.6-4.6v9.2M427.9,166.9h9.2m-4.6-4.6v9.2M428.1,163.8h9.2m-4.6-4.6v9.2M428.3,175.2h9.2m-4.6-4.6v9.2M429.2,178.7h9.2m-4.6-4.6v9.2M429.7,165.4h9.2m-4.6-4.6v9.2M429.8,162.7h9.2m-4.6-4.6v9.2M430.3,165.9h9.2m-4.6-4.6v9.2M430.5,159.4h9.2m-4.6-4.6v9.2M430.5,163.4h9.2m-4.6-4.6v9.2M431.8,166.7h9.2m-4.6-4.6v9.2M432.0,163.2h9.2m-4.6-4.6v9.2M432.0,154.9h9.2m-4.6-4.6v9.2M432.1,165.2h9.2m-4.6-4.6v9.2M432.1,151.2h9.2m-4.6-4.6v9.2M433.6,166.6h9.2m-4.6-4.6v9.2M434.0,162.4h9.2m-4.6-4.6v9.2M434.1,161.9h9.2m-4.6-4.6v9.2M434.5,161.1h9.2m-4.6-4.6v9.2M435.2,159.9h9.2m-4.6-4.6v9.2M435.2,164.6h9.2m-4.6-4.6v9.2M435.3,170.2h9.2m-4.6-4.6v9.2M435.5,162.1h9.2m-4.6-4.6v9.2M435.5,167.7h9.2m-4.6-4.6v9.2M435.6,173.4h9.2m-4.6-4.6v9.2M436.4,168.6h9.2m-4.6-4.6v9.2M436.8,153.3h9.2m-4.6-4.6v9.2M436.9,161.1h9.2m-4.6-4.6v9.2M437.7,242.3h9.2m-4.6-4.6v9.2M439.5,230.5h9.2m-4.6-4.6v9.2M439.7,222.9h9.2m-4.6-4.6v9.2M439.9,243.3h9.2m-4.6-4.6v9.2M440.0,238.4h9.2m-4.6-4.6v9.2M440.4,230.7h9.2m-4.6-4.6v9.2M440.4,239.3h9.2m-4.6-4.6v9.2M440.7,233.5h9.2m-4.6-4.6v9.2M441.1,241.9h9.2m-4.6-4.6v9.2M441.5,241.1h9.2m-4.6-4.6v9.2M441.7,244.7h9.2m-4.6-4.6v9.2M441.8,241.0h9.2m-4.6-4.6v9.2M442.0,234.9h9.2m-4.6-4.6v9.2M442.6,237.8h9.2m-4.6-4.6v9.2M443.5,230.6h9.2m-4.6-4.6v9.2M444.7,242.3h9.2m-4.6-4.6v9.2M444.8,238.2h9.2m-4.6-4.6v9.2M445.0,246.2h9.2m-4.6-4.6v9.2M445.2,240.5h9.2m-4.6-4.6v9.2M445.8,247.0h9.2m-4.6-4.6v9.2M446.5,229.5h9.2m-4.6-4.6v9.2M446.7,251.7h9.2m-4.6-4.6v9.2M447.2,233.1h9.2m-4.6-4.6v9.2M448.0,232.7h9.2m-4.6-4.6v9.2M448.2,242.0h9.2m-4.6-4.6v9.2M448.4,235.0h9.2m-4.6-4.6v9.2M448.7,244.4h9.2m-4.6-4.6v9.2M449.4,225.4h9.2m-4.6-4.6v9.2M450.2,241.4h9.2m-4.6-4.6v9.2M450.7,217.1h9.2m-4.6-4.6v9.2M452.1,241.8h9.2m-4.6-4.6v9.2M452.1,245.3h9.2m-4.6-4.6v9.2M453.1,235.9h9.2m-4.6-4.6v9.2M453.5,237.9h9.2m-4.6-4.6v9.2M454.0,252.6h9.2m-4.6-4.6v9.2M455.1,243.5h9.2m-4.6-4.6v9.2M455.1,249.0h9.2m-4.6-4.6v9.2M455.7,235.8h9.2m-4.6-4.6v9.2M455.7,220.0h9.2m-4.6-4.6v9.2M456.2,238.6h9.2m-4.6-4.6v9.2M456.4,230.2h9.2m-4.6-4.6v9.2M456.7,236.4h9.2m-4.6-4.6v9.2M457.1,244.2h9.2m-4.6-4.6v9.2M459.2,249.9h9.2m-4.6-4.6v9.2M459.2,236.8h9.2m-4.6-4.6v9.2M460.0,244.1h9.2m-4.6-4.6v9.2M461.1,246.4h9.2m-4.6-4.6v9.2M461.5,250.9h9.2m-4.6-4.6v9.2M462.0,256.6h9.2m-4.6-4.6v9.2M462.2,241.4h9.2m-4.6-4.6v9.2M462.3,225.9h9.2m-4.6-4.6v9.2M462.5,226.5h9.2m-4.6-4.6v9.2M463.0,226.2h9.2m-4.6-4.6v9.2M463.4,227.5h9.2m-4.6-4.6v9.2M463.4,244.0h9.2m-4.6-4.6v9.2M463.6,245.4h9.2m-4.6-4.6v9.2M464.3,230.4h9.2m-4.6-4.6v9.2M464.4,234.1h9.2m-4.6-4.6v9.2M465.2,232.8h9.2m-4.6-4.6v9.2M465.3,234.8h9.2m-4.6-4.6v9.2M465.3,245.1h9.2m-4.6-4.6v9.2M465.4,242.5h9.2m-4.6-4.6v9.2M465.6,239.0h9.2m-4.6-4.6v9.2M466.0,228.3h9.2m-4.6-4.6v9.2M466.6,248.5h9.2m-4.6-4.6v9.2M466.7,229.9h9.2m-4.6-4.6v9.2M466.8,242.5h9.2m-4.6-4.6v9.2M467.1,237.3h9.2m-4.6-4.6v9.2M468.1,212.5h9.2m-4.6-4.6v9.2M468.8,241.1h9.2m-4.6-4.6v9.2M468.8,248.4h9.2m-4.6-4.6v9.2M469.3,238.5h9.2m-4.6-4.6v9.2M469.6,236.3h9.2m-4.6-4.6v9.2M469.8,229.7h9.2m-4.6-4.6v9.2M470.5,234.0h9.2m-4.6-4.6v9.2M470.6,228.3h9.2m-4.6-4.6v9.2M470.8,247.7h9.2m-4.6-4.6v9.2M470.9,239.7h9.2m-4.6-4.6v9.2M471.3,233.6h9.2m-4.6-4.6v9.2M471.7,218.4h9.2m-4.6-4.6v9.2M473.4,235.6h9.2m-4.6-4.6v9.2M473.7,241.5h9.2m-4.6-4.6v9.2M473.8,233.7h9.2m-4.6-4.6v9.2M473.9,243.4h9.2m-4.6-4.6v9.2M474.5,248.9h9.2m-4.6-4.6v9.2M475.3,236.3h9.2m-4.6-4.6v9.2M475.7,227.9h9.2m-4.6-4.6v9.2M476.6,240.6h9.2m-4.6-4.6v9.2M476.8,231.8h9.2m-4.6-4.6v9.2M477.4,234.5h9.2m-4.6-4.6v9.2M478.5,249.4h9.2m-4.6-4.6v9.2M478.7,241.0h9.2m-4.6-4.6v9.2M478.9,224.7h9.2m-4.6-4.6v9.2M479.4,236.9h9.2m-4.6-4.6v9.2M479.7,230.7h9.2m-4.6-4.6v9.2M480.0,227.2h9.2m-4.6-4.6v9.2M480.1,231.2h9.2m-4.6-4.6v9.2M480.2,232.7h9.2m-4.6-4.6v9.2M480.2,231.2h9.2m-4.6-4.6v9.2M480.3,241.0h9.2m-4.6-4.6v9.2M481.1,231.2h9.2m-4.6-4.6v9.2M481.8,232.9h9.2m-4.6-4.6v9.2M481.9,227.0h9.2m-4.6-4.6v9.2M481.9,245.5h9.2m-4.6-4.6v9.2M482.1,242.9h9.2m-4.6-4.6v9.2M482.2,235.6h9.2m-4.6-4.6v9.2M482.3,235.2h9.2m-4.6-4.6v9.2M483.2,246.4h9.2m-4.6-4.6v9.2M483.4,229.2h9.2m-4.6-4.6v9.2M483.5,228.8h9.2m-4.6-4.6v9.2M483.5,243.8h9.2m-4.6-4.6v9.2M483.6,222.8h9.2m-4.6-4.6v9.2M484.5,228.7h9.2m-4.6-4.6v9.2M484.5,232.7h9.2m-4.6-4.6v9.2M484.9,238.6h9.2m-4.6-4.6v9.2M485.1,227.1h9.2m-4.6-4.6v9.2M485.6,218.3h9.2m-4.6-4.6v9.2M485.9,221.4h9.2m-4.6-4.6v9.2M486.5,249.4h9.2m-4.6-4.6v9.2M487.1,245.4h9.2m-4.6-4.6v9.2M487.2,225.6h9.2m-4.6-4.6v9.2M487.4,227.6h9.2m-4.6-4.6v9.2M487.4,257.2h9.2m-4.6-4.6v9.2M487.6,242.2h9.2m-4.6-4.6v9.2M488.0,227.7h9.2m-4.6-4.6v9.2M488.1,235.0h9.2m-4.6-4.6v9.2M488.2,235.1h9.2m-4.6-4.6v9.2M488.3,241.1h9.2m-4.6-4.6v9.2M488.6,236.2h9.2m-4.6-4.6v9.2M488.7,213.5h9.2m-4.6-4.6v9.2M489.3,249.3h9.2m-4.6-4.6v9.2M489.4,240.7h9.2m-4.6-4.6v9.2M489.4,234.2h9.2m-4.6-4.6v9.2M489.6,233.0h9.2m-4.6-4.6v9.2M489.7,225.8h9.2m-4.6-4.6v9.2M490.1,252.0h9.2m-4.6-4.6v9.2M490.7,228.5h9.2m-4.6-4.6v9.2M491.0,239.2h9.2m-4.6-4.6v9.2M491.7,230.5h9.2m-4.6-4.6v9.2M491.8,221.7h9.2m-4.6-4.6v9.2M492.2,244.4h9.2m-4.6-4.6v9.2M493.3,240.1h9.2m-4.6-4.6v9.2M494.0,233.6h9.2m-4.6-4.6v9.2M494.1,229.9h9.2m-4.6-4.6v9.2M495.2,240.4h9.2m-4.6-4.6v9.2M495.5,237.5h9.2m-4.6-4.6v9.2M496.1,253.6h9.2m-4.6-4.6v9.2M496.3,225.8h9.2m-4.6-4.6v9.2M496.4,225.1h9.2m-4.6-4.6v9.2M496.4,228.4h9.2m-4.6-4.6v9.2M496.8,237.1h9.2m-4.6-4.6v9.2M496.9,229.3h9.2m-4.6-4.6v9.2M497.3,236.5h9.2m-4.6-4.6v9.2M497.7,221.7h9.2m-4.6-4.6v9.2M498.9,228.6h9.2m-4.6-4.6v9.2M499.2,231.4h9.2m-4.6-4.6v9.2M499.3,232.3h9.2m-4.6-4.6v9.2M499.6,233.0h9.2m-4.6-4.6v9.2M499.9,231.6h9.2m-4.6-4.6v9.2M500.1,243.0h9.2m-4.6-4.6v9.2M500.6,238.1h9.2m-4.6-4.6v9.2M501.2,235.2h9.2m-4.6-4.6v9.2M501.9,253.8h9.2m-4.6-4.6v9.2M501.9,240.0h9.2m-4.6-4.6v9.2M502.5,233.5h9.2m-4.6-4.6v9.2M502.9,251.8h9.2m-4.6-4.6v9.2M503.6,230.5h9.2m-4.6-4.6v9.2M503.6,238.1h9.2m-4.6-4.6v9.2M504.0,243.7h9.2m-4.6-4.6v9.2M504.5,234.6h9.2m-4.6-4.6v9.2M504.6,240.5h9.2m-4.6-4.6v9.2M505.0,237.9h9.2m-4.6-4.6v9.2M505.0,232.8h9.2m-4.6-4.6v9.2M505.2,244.4h9.2m-4.6-4.6v9.2M505.5,242.1h9.2m-4.6-4.6v9.2M505.5,229.1h9.2m-4.6-4.6v9.2M505.6,232.2h9.2m-4.6-4.6v9.2M505.6,232.8h9.2m-4.6-4.6v9.2M505.7,234.2h9.2m-4.6-4.6v9.2M506.5,240.3h9.2m-4.6-4.6v9.2M506.9,235.0h9.2m-4.6-4.6v9.2M507.6,243.5h9.2m-4.6-4.6v9.2M507.8,236.6h9.2m-4.6-4.6v9.2M507.9,239.0h9.2m-4.6-4.6v9.2M508.0,234.8h9.2m-4.6-4.6v9.2M508.2,233.8h9.2m-4.6-4.6v9.2M508.6,233.6h9.2m-4.6-4.6v9.2M508.7,230.6h9.2m-4.6-4.6v9.2M509.8,231.3h9.2m-4.6-4.6v9.2M510.0,242.8h9.2m-4.6-4.6v9.2M510.6,241.9h9.2m-4.6-4.6v9.2M510.8,246.6h9.2m-4.6-4.6v9.2M511.8,243.0h9.2m-4.6-4.6v9.2M512.2,234.9h9.2m-4.6-4.6v9.2M513.4,227.2h9.2m-4.6-4.6v9.2M513.7,226.6h9.2m-4.6-4.6v9.2M513.8,232.3h9.2m-4.6-4.6v9.2M514.9,235.7h9.2m-4.6-4.6v9.2M514.9,240.9h9.2m-4.6-4.6v9.2M514.9,243.0h9.2m-4.6-4.6v9.2M516.3,238.3h9.2m-4.6-4.6v9.2M517.3,243.1h9.2m-4.6-4.6v9.2M517.3,221.6h9.2m-4.6-4.6v9.2M517.4,236.5h9.2m-4.6-4.6v9.2M517.4,219.4h9.2m-4.6-4.6v9.2M517.7,238.7h9.2m-4.6-4.6v9.2M518.2,229.2h9.2m-4.6-4.6v9.2M519.0,223.9h9.2m-4.6-4.6v9.2M519.7,228.0h9.2m-4.6-4.6v9.2M519.8,229.8h9.2m-4.6-4.6v9.2M521.5,234.2h9.2m-4.6-4.6v9.2M522.1,227.4h9.2m-4.6-4.6v9.2M522.2,230.2h9.2m-4.6-4.6v9.2M522.7,234.3h9.2m-4.6-4.6v9.2M523.0,221.2h9.2m-4.6-4.6v9.2M523.0,247.5h9.2m-4.6-4.6v9.2M523.2,257.1h9.2m-4.6-4.6v9.2M523.7,218.8h9.2m-4.6-4.6v9.2M523.9,228.9h9.2m-4.6-4.6v9.2M524.0,222.2h9.2m-4.6-4.6v9.2M524.4,236.5h9.2m-4.6-4.6v9.2M524.5,244.5h9.2m-4.6-4.6v9.2M524.5,238.6h9.2m-4.6-4.6v9.2M525.1,238.0h9.2m-4.6-4.6v9.2M525.2,244.0h9.2m-4.6-4.6v9.2M525.5,243.6h9.2m-4.6-4.6v9.2M526.5,236.4h9.2m-4.6-4.6v9.2M526.6,246.1h9.2m-4.6-4.6v9.2M526.6,252.4h9.2m-4.6-4.6v9.2M527.2,223.3h9.2m-4.6-4.6v9.2M527.4,243.0h9.2m-4.6-4.6v9.2M527.7,223.4h9.2m-4.6-4.6v9.2M527.9,235.2h9.2m-4.6-4.6v9.2M527.9,238.1h9.2m-4.6-4.6v9.2M527.9,227.7h9.2m-4.6-4.6v9.2M528.7,240.6h9.2m-4.6-4.6v9.2M528.8,229.0h9.2m-4.6-4.6v9.2M529.5,228.6h9.2m-4.6-4.6v9.2M529.6,244.7h9.2m-4.6-4.6v9.2M529.8,244.7h9.2m-4.6-4.6v9.2M529.9,239.7h9.2m-4.6-4.6v9.2M530.2,248.4h9.2m-4.6-4.6v9.2M530.5,251.2h9.2m-4.6-4.6v9.2M530.5,240.0h9.2m-4.6-4.6v9.2M531.2,235.7h9.2m-4.6-4.6v9.2M531.7,250.6h9.2m-4.6-4.6v9.2M532.2,232.3h9.2m-4.6-4.6v9.2M532.2,246.1h9.2m-4.6-4.6v9.2M532.4,215.6h9.2m-4.6-4.6v9.2M532.7,249.3h9.2m-4.6-4.6v9.2M532.8,256.5h9.2m-4.6-4.6v9.2M532.8,257.9h9.2m-4.6-4.6v9.2M533.8,237.3h9.2m-4.6-4.6v9.2M533.9,238.2h9.2m-4.6-4.6v9.2M534.2,243.0h9.2m-4.6-4.6v9.2M535.1,252.8h9.2m-4.6-4.6v9.2M536.0,252.6h9.2m-4.6-4.6v9.2M536.2,250.1h9.2m-4.6-4.6v9.2M537.3,236.1h9.2m-4.6-4.6v9.2M539.3,240.6h9.2m-4.6-4.6v9.2M539.4,237.7h9.2m-4.6-4.6v9.2M540.1,238.2h9.2m-4.6-4.6v9.2M540.7,246.8h9.2m-4.6-4.6v9.2M540.8,240.7h9.2m-4.6-4.6v9.2M541.1,217.6h9.2m-4.6-4.6v9.2M541.5,222.7h9.2m-4.6-4.6v9.2M541.5,236.4h9.2m-4.6-4.6v9.2M541.8,238.2h9.2m-4.6-4.6v9.2M542.0,232.6h9.2m-4.6-4.6v9.2M542.8,237.0h9.2m-4.6-4.6v9.2M543.6,248.5h9.2m-4.6-4.6v9.2M544.5,235.4h9.2m-4.6-4.6v9.2M545.2,247.5h9.2m-4.6-4.6v9.2M545.6,223.7h9.2m-4.6-4.6v9.2M545.8,262.2h9.2m-4.6-4.6v9.2M546.0,250.2h9.2m-4.6-4.6v9.2M546.8,241.7h9.2m-4.6-4.6v9.2M547.2,230.4h9.2m-4.6-4.6v9.2M547.3,243.7h9.2m-4.6-4.6v9.2M547.7,237.6h9.2m-4.6-4.6v9.2M548.0,237.8h9.2m-4.6-4.6v9.2M548.0,228.6h9.2m-4.6-4.6v9.2M548.1,254.6h9.2m-4.6-4.6v9.2M548.6,252.5h9.2m-4.6-4.6v9.2M549.3,260.2h9.2m-4.6-4.6v9.2M549.7,250.2h9.2m-4.6-4.6v9.2M550.0,248.5h9.2m-4.6-4.6v9.2M550.6,237.3h9.2m-4.6-4.6v9.2M550.9,239.4h9.2m-4.6-4.6v9.2M552.4,255.2h9.2m-4.6-4.6v9.2M552.8,242.5h9.2m-4.6-4.6v9.2M553.2,235.7h9.2m-4.6-4.6v9.2M553.4,255.7h9.2m-4.6-4.6v9.2M553.7,243.7h9.2m-4.6-4.6v9.2M554.0,239.8h9.2m-4.6-4.6v9.2M554.4,248.1h9.2m-4.6-4.6v9.2M555.3,234.6h9.2m-4.6-4.6v9.2M555.7,254.3h9.2m-4.6-4.6v9.2M556.0,240.0h9.2m-4.6-4.6v9.2M556.0,246.3h9.2m-4.6-4.6v9.2M470.4,270.0h9.2m-4.6-4.6v9.2M472.9,273.5h9.2m-4.6-4.6v9.2M471.4,277.0h9.2m-4.6-4.6v9.2M472.7,280.5h9.2m-4.6-4.6v9.2M556.9,300.5h9.2m-4.6-4.6v9.2M557.3,261.8h9.2m-4.6-4.6v9.2M557.4,293.7h9.2m-4.6-4.6v9.2M557.4,299.0h9.2m-4.6-4.6v9.2M558.0,265.7h9.2m-4.6-4.6v9.2M558.4,289.2h9.2m-4.6-4.6v9.2M558.6,288.9h9.2m-4.6-4.6v9.2M558.9,266.7h9.2m-4.6-4.6v9.2M559.1,286.4h9.2m-4.6-4.6v9.2M559.1,294.4h9.2m-4.6-4.6v9.2M559.2,264.9h9.2m-4.6-4.6v9.2M560.0,283.4h9.2m-4.6-4.6v9.2M560.3,266.3h9.2m-4.6-4.6v9.2M560.3,286.5h9.2m-4.6-4.6v9.2M560.6,270.2h9.2m-4.6-4.6v9.2M561.6,280.0h9.2m-4.6-4.6v9.2M561.7,282.2h9.2m-4.6-4.6v9.2M562.1,286.4h9.2m-4.6-4.6v9.2M562.9,280.3h9.2m-4.6-4.6v9.2M563.1,291.8h9.2m-4.6-4.6v9.2M563.5,289.8h9.2m-4.6-4.6v9.2M564.0,274.4h9.2m-4.6-4.6v9.2M564.3,273.4h9.2m-4.6-4.6v9.2M564.7,285.9h9.2m-4.6-4.6v9.2M564.9,285.5h9.2m-4.6-4.6v9.2M565.3,277.3h9.2m-4.6-4.6v9.2M565.7,283.2h9.2m-4.6-4.6v9.2M566.2,286.3h9.2m-4.6-4.6v9.2M566.5,292.7h9.2m-4.6-4.6v9.2M566.8,279.5h9.2m-4.6-4.6v9.2M567.4,271.3h9.2m-4.6-4.6v9.2M567.5,280.6h9.2m-4.6-4.6v9.2M567.8,284.2h9.2m-4.6-4.6v9.2M568.0,274.3h9.2m-4.6-4.6v9.2M568.5,285.9h9.2m-4.6-4.6v9.2M568.8,272.1h9.2m-4.6-4.6v9.2M568.9,291.8h9.2m-4.6-4.6v9.2M569.3,271.2h9.2m-4.6-4.6v9.2M569.5,292.0h9.2m-4.6-4.6v9.2M570.8,307.5h9.2m-4.6-4.6v9.2M570.9,276.7h9.2m-4.6-4.6v9.2M571.1,294.7h9.2m-4.6-4.6v9.2M572.3,293.2h9.2m-4.6-4.6v9.2M572.6,283.7h9.2m-4.6-4.6v9.2M572.7,283.3h9.2m-4.6-4.6v9.2M572.9,273.7h9.2m-4.6-4.6v9.2M572.9,283.1h9.2m-4.6-4.6v9.2M573.6,284.6h9.2m-4.6-4.6v9.2M575.9,271.6h9.2m-4.6-4.6v9.2M576.1,279.9h9.2m-4.6-4.6v9.2M576.2,281.4h9.2m-4.6-4.6v9.2M577.2,279.3h9.2m-4.6-4.6v9.2M577.5,289.4h9.2m-4.6-4.6v9.2M578.5,281.5h9.2m-4.6-4.6v9.2M579.0,282.8h9.2m-4.6-4.6v9.2M579.1,271.5h9.2m-4.6-4.6v9.2M579.5,274.0h9.2m-4.6-4.6v9.2M579.8,272.0h9.2m-4.6-4.6v9.2M580.1,284.5h9.2m-4.6-4.6v9.2M580.3,289.2h9.2m-4.6-4.6v9.2M580.8,296.4h9.2m-4.6-4.6v9.2M581.0,291.3h9.2m-4.6-4.6v9.2M581.1,283.7h9.2m-4.6-4.6v9.2M581.2,270.0h9.2m-4.6-4.6v9.2M581.7,300.5h9.2m-4.6-4.6v9.2M581.7,291.3h9.2m-4.6-4.6v9.2M582.2,281.2h9.2m-4.6-4.6v9.2M582.5,279.2h9.2m-4.6-4.6v9.2M582.5,286.1h9.2m-4.6-4.6v9.2M582.8,282.8h9.2m-4.6-4.6v9.2M583.3,285.7h9.2m-4.6-4.6v9.2M583.7,279.2h9.2m-4.6-4.6v9.2M584.0,275.3h9.2m-4.6-4.6v9.2M584.2,284.7h9.2m-4.6-4.6v9.2M584.3,305.4h9.2m-4.6-4.6v9.2M584.6,287.3h9.2m-4.6-4.6v9.2M584.7,284.3h9.2m-4.6-4.6v9.2M585.0,286.9h9.2m-4.6-4.6v9.2M585.0,278.6h9.2m-4.6-4.6v9.2M585.1,291.4h9.2m-4.6-4.6v9.2M585.6,288.6h9.2m-4.6-4.6v9.2M585.8,289.6h9.2m-4.6-4.6v9.2M587.5,283.2h9.2m-4.6-4.6v9.2M587.6,289.4h9.2m-4.6-4.6v9.2M588.1,276.3h9.2m-4.6-4.6v9.2M589.6,271.9h9.2m-4.6-4.6v9.2M589.9,282.6h9.2m-4.6-4.6v9.2M589.9,287.7h9.2m-4.6-4.6v9.2M590.3,282.1h9.2m-4.6-4.6v9.2M590.5,284.5h9.2m-4.6-4.6v9.2M590.9,284.2h9.2m-4.6-4.6v9.2M591.4,282.3h9.2m-4.6-4.6v9.2M591.5,276.7h9.2m-4.6-4.6v9.2M591.8,277.1h9.2m-4.6-4.6v9.2M592.7,281.4h9.2m-4.6-4.6v9.2M593.2,273.4h9.2m-4.6-4.6v9.2M594.0,282.0h9.2m-4.6-4.6v9.2M594.2,282.8h9.2m-4.6-4.6v9.2M595.6,275.2h9.2m-4.6-4.6v9.2M595.6,290.7h9.2m-4.6-4.6v9.2M595.8,296.9h9.2m-4.6-4.6v9.2M596.2,288.8h9.2m-4.6-4.6v9.2M597.3,295.4h9.2m-4.6-4.6v9.2M597.9,284.5h9.2m-4.6-4.6v9.2M598.6,299.5h9.2m-4.6-4.6v9.2M598.6,288.1h9.2m-4.6-4.6v9.2M598.7,290.5h9.2m-4.6-4.6v9.2M598.9,288.1h9.2m-4.6-4.6v9.2M599.4,276.3h9.2m-4.6-4.6v9.2M599.4,275.9h9.2m-4.6-4.6v9.2M599.6,290.5h9.2m-4.6-4.6v9.2M600.9,286.8h9.2m-4.6-4.6v9.2M601.7,285.1h9.2m-4.6-4.6v9.2M601.8,291.6h9.2m-4.6-4.6v9.2M601.9,274.7h9.2m-4.6-4.6v9.2M602.0,293.1h9.2m-4.6-4.6v9.2M602.1,283.5h9.2m-4.6-4.6v9.2M602.1,271.4h9.2m-4.6-4.6v9.2M602.2,287.7h9.2m-4.6-4.6v9.2M602.3,291.1h9.2m-4.6-4.6v9.2M602.8,286.9h9.2m-4.6-4.6v9.2M602.9,274.4h9.2m-4.6-4.6v9.2M603.1,294.0h9.2m-4.6-4.6v9.2M603.9,283.9h9.2m-4.6-4.6v9.2M604.3,297.7h9.2m-4.6-4.6v9.2M604.6,272.3h9.2m-4.6-4.6v9.2M605.1,287.5h9.2m-4.6-4.6v9.2M605.1,289.1h9.2m-4.6-4.6v9.2M605.1,280.8h9.2m-4.6-4.6v9.2M605.3,278.0h9.2m-4.6-4.6v9.2M605.5,286.6h9.2m-4.6-4.6v9.2M606.6,288.4h9.2m-4.6-4.6v9.2M606.8,271.6h9.2m-4.6-4.6v9.2M607.0,285.7h9.2m-4.6-4.6v9.2M607.2,291.1h9.2m-4.6-4.6v9.2M607.2,273.3h9.2m-4.6-4.6v9.2M608.1,283.5h9.2m-4.6-4.6v9.2M608.1,282.1h9.2m-4.6-4.6v9.2M608.1,283.1h9.2m-4.6-4.6v9.2M608.5,277.5h9.2m-4.6-4.6v9.2M608.5,296.6h9.2m-4.6-4.6v9.2M608.7,288.4h9.2m-4.6-4.6v9.2M609.0,294.7h9.2m-4.6-4.6v9.2M610.1,289.2h9.2m-4.6-4.6v9.2M610.7,283.9h9.2m-4.6-4.6v9.2M610.7,277.6h9.2m-4.6-4.6v9.2M610.7,288.6h9.2m-4.6-4.6v9.2M611.0,291.4h9.2m-4.6-4.6v9.2M611.0,298.2h9.2m-4.6-4.6v9.2M612.0,286.8h9.2m-4.6-4.6v9.2M612.7,292.7h9.2m-4.6-4.6v9.2M612.7,288.2h9.2m-4.6-4.6v9.2M612.8,274.6h9.2m-4.6-4.6v9.2M613.5,281.2h9.2m-4.6-4.6v9.2M613.7,285.1h9.2m-4.6-4.6v9.2M613.7,295.5h9.2m-4.6-4.6v9.2M613.7,288.8h9.2m-4.6-4.6v9.2M614.1,277.3h9.2m-4.6-4.6v9.2M614.3,279.9h9.2m-4.6-4.6v9.2M614.4,283.7h9.2m-4.6-4.6v9.2M614.4,281.5h9.2m-4.6-4.6v9.2M614.7,286.1h9.2m-4.6-4.6v9.2M614.8,288.0h9.2m-4.6-4.6v9.2M615.5,270.8h9.2m-4.6-4.6v9.2M615.5,286.5h9.2m-4.6-4.6v9.2M615.8,285.9h9.2m-4.6-4.6v9.2M617.1,284.4h9.2m-4.6-4.6v9.2M617.4,278.1h9.2m-4.6-4.6v9.2M617.6,285.4h9.2m-4.6-4.6v9.2M618.2,281.4h9.2m-4.6-4.6v9.2M619.7,281.2h9.2m-4.6-4.6v9.2M620.5,285.3h9.2m-4.6-4.6v9.2M620.6,289.7h9.2m-4.6-4.6v9.2M621.9,283.0h9.2m-4.6-4.6v9.2M622.5,276.2h9.2m-4.6-4.6v9.2M623.0,284.7h9.2m-4.6-4.6v9.2M623.7,273.2h9.2m-4.6-4.6v9.2M623.8,292.1h9.2m-4.6-4.6v9.2M623.9,285.7h9.2m-4.6-4.6v9.2M624.2,286.4h9.2m-4.6-4.6v9.2M625.3,280.8h9.2m-4.6-4.6v9.2M625.4,269.7h9.2m-4.6-4.6v9.2M626.2,295.7h9.2m-4.6-4.6v9.2M626.5,275.4h9.2m-4.6-4.6v9.2M627.8,278.2h9.2m-4.6-4.6v9.2M627.8,284.3h9.2m-4.6-4.6v9.2M627.9,283.7h9.2m-4.6-4.6v9.2M628.8,289.1h9.2m-4.6-4.6v9.2M628.9,290.8h9.2m-4.6-4.6v9.2M629.3,293.6h9.2m-4.6-4.6v9.2M629.4,297.6h9.2m-4.6-4.6v9.2M629.8,272.8h9.2m-4.6-4.6v9.2M630.0,283.0h9.2m-4.6-4.6v9.2M630.4,279.4h9.2m-4.6-4.6v9.2M630.4,277.4h9.2m-4.6-4.6v9.2M630.7,293.1h9.2m-4.6-4.6v9.2M630.7,285.4h9.2m-4.6-4.6v9.2M630.9,279.2h9.2m-4.6-4.6v9.2M631.3,286.4h9.2m-4.6-4.6v9.2M632.5,289.2h9.2m-4.6-4.6v9.2M633.8,288.0h9.2m-4.6-4.6v9.2M633.9,286.9h9.2m-4.6-4.6v9.2M635.4,277.2h9.2m-4.6-4.6v9.2M635.6,281.7h9.2m-4.6-4.6v9.2M635.6,268.3h9.2m-4.6-4.6v9.2M636.0,289.1h9.2m-4.6-4.6v9.2M636.5,276.8h9.2m-4.6-4.6v9.2M637.4,288.9h9.2m-4.6-4.6v9.2M637.8,289.0h9.2m-4.6-4.6v9.2M637.8,285.9h9.2m-4.6-4.6v9.2M637.9,279.6h9.2m-4.6-4.6v9.2M638.1,276.0h9.2m-4.6-4.6v9.2M639.0,281.4h9.2m-4.6-4.6v9.2M639.7,270.3h9.2m-4.6-4.6v9.2M641.4,282.3h9.2m-4.6-4.6v9.2M641.5,287.4h9.2m-4.6-4.6v9.2M641.9,286.1h9.2m-4.6-4.6v9.2M641.9,287.1h9.2m-4.6-4.6v9.2M642.7,290.2h9.2m-4.6-4.6v9.2M643.0,274.8h9.2m-4.6-4.6v9.2M643.0,285.7h9.2m-4.6-4.6v9.2M643.8,299.6h9.2m-4.6-4.6v9.2M643.8,288.7h9.2m-4.6-4.6v9.2M644.5,277.0h9.2m-4.6-4.6v9.2M644.7,277.2h9.2m-4.6-4.6v9.2M644.9,287.6h9.2m-4.6-4.6v9.2M645.1,285.1h9.2m-4.6-4.6v9.2M645.1,275.1h9.2m-4.6-4.6v9.2M645.3,292.0h9.2m-4.6-4.6v9.2M645.4,278.3h9.2m-4.6-4.6v9.2M645.6,287.0h9.2m-4.6-4.6v9.2M646.4,290.8h9.2m-4.6-4.6v9.2M647.1,275.2h9.2m-4.6-4.6v9.2M647.3,286.3h9.2m-4.6-4.6v9.2M647.8,299.3h9.2m-4.6-4.6v9.2M648.0,287.0h9.2m-4.6-4.6v9.2M648.0,289.9h9.2m-4.6-4.6v9.2M648.1,290.4h9.2m-4.6-4.6v9.2M648.9,262.2h9.2m-4.6-4.6v9.2M649.3,279.9h9.2m-4.6-4.6v9.2M650.3,287.4h9.2m-4.6-4.6v9.2M651.3,288.6h9.2m-4.6-4.6v9.2M652.1,281.6h9.2m-4.6-4.6v9.2M652.1,274.5h9.2m-4.6-4.6v9.2M652.2,285.9h9.2m-4.6-4.6v9.2M653.5,273.9h9.2m-4.6-4.6v9.2M654.5,271.1h9.2m-4.6-4.6v9.2M655.3,272.2h9.2m-4.6-4.6v9.2M656.0,270.2h9.2m-4.6-4.6v9.2M656.0,276.8h9.2m-4.6-4.6v9.2M656.0,287.4h9.2m-4.6-4.6v9.2M656.0,295.2h9.2m-4.6-4.6v9.2M656.2,284.6h9.2m-4.6-4.6v9.2M657.2,287.0h9.2m-4.6-4.6v9.2M658.2,268.4h9.2m-4.6-4.6v9.2M659.7,278.1h9.2m-4.6-4.6v9.2M659.8,283.8h9.2m-4.6-4.6v9.2M659.8,276.1h9.2m-4.6-4.6v9.2M659.9,291.1h9.2m-4.6-4.6v9.2M660.7,269.8h9.2m-4.6-4.6v9.2M660.9,272.1h9.2m-4.6-4.6v9.2M663.3,282.3h9.2m-4.6-4.6v9.2M663.8,294.2h9.2m-4.6-4.6v9.2M663.9,282.4h9.2m-4.6-4.6v9.2M664.2,286.2h9.2m-4.6-4.6v9.2M664.2,300.8h9.2m-4.6-4.6v9.2M664.8,280.7h9.2m-4.6-4.6v9.2M665.0,279.0h9.2m-4.6-4.6v9.2M666.1,287.1h9.2m-4.6-4.6v9.2M666.2,290.8h9.2m-4.6-4.6v9.2M666.4,295.1h9.2m-4.6-4.6v9.2M666.9,279.5h9.2m-4.6-4.6v9.2M667.1,285.3h9.2m-4.6-4.6v9.2M667.6,271.8h9.2m-4.6-4.6v9.2M667.6,278.7h9.2m-4.6-4.6v9.2M667.7,282.6h9.2m-4.6-4.6v9.2M667.8,282.3h9.2m-4.6-4.6v9.2M668.1,295.1h9.2m-4.6-4.6v9.2M668.1,293.0h9.2m-4.6-4.6v9.2M668.3,294.0h9.2m-4.6-4.6v9.2M668.3,270.7h9.2m-4.6-4.6v9.2M668.6,265.7h9.2m-4.6-4.6v9.2M668.8,275.9h9.2m-4.6-4.6v9.2M668.9,283.6h9.2m-4.6-4.6v9.2M669.5,281.0h9.2m-4.6-4.6v9.2M671.5,273.2h9.2m-4.6-4.6v9.2M671.5,285.3h9.2m-4.6-4.6v9.2M672.7,282.7h9.2m-4.6-4.6v9.2M673.0,290.1h9.2m-4.6-4.6v9.2M673.2,284.3h9.2m-4.6-4.6v9.2M673.2,292.5h9.2m-4.6-4.6v9.2M673.3,281.5h9.2m-4.6-4.6v9.2M673.3,296.8h9.2m-4.6-4.6v9.2M674.7,284.4h9.2m-4.6-4.6v9.2M675.0,291.9h9.2m-4.6-4.6v9.2M675.3,284.8h9.2m-4.6-4.6v9.2M675.5,274.4h9.2m-4.6-4.6v9.2M675.5,282.9h9.2m-4.6-4.6v9.2M675.8,306.0h9.2m-4.6-4.6v9.2M676.6,283.9h9.2m-4.6-4.6v9.2M676.9,285.6h9.2m-4.6-4.6v9.2M678.6,292.6h9.2m-4.6-4.6v9.2M679.3,284.2h9.2m-4.6-4.6v9.2M679.7,299.7h9.2m-4.6-4.6v9.2M679.9,283.9h9.2m-4.6-4.6v9.2M680.0,291.7h9.2m-4.6-4.6v9.2M680.5,284.7h9.2m-4.6-4.6v9.2M680.8,287.8h9.2m-4.6-4.6v9.2M680.9,279.4h9.2m-4.6-4.6v9.2M681.1,296.6h9.2m-4.6-4.6v9.2M681.7,302.6h9.2m-4.6-4.6v9.2M682.1,285.3h9.2m-4.6-4.6v9.2M682.1,283.8h9.2m-4.6-4.6v9.2M682.2,289.3h9.2m-4.6-4.6v9.2M682.5,291.4h9.2m-4.6-4.6v9.2M682.9,279.8h9.2m-4.6-4.6v9.2M682.9,266.1h9.2m-4.6-4.6v9.2M684.1,283.1h9.2m-4.6-4.6v9.2M684.2,293.8h9.2m-4.6-4.6v9.2M685.3,285.8h9.2m-4.6-4.6v9.2M686.8,291.4h9.2m-4.6-4.6v9.2M687.0,281.5h9.2m-4.6-4.6v9.2M687.5,288.0h9.2m-4.6-4.6v9.2M687.6,279.6h9.2m-4.6-4.6v9.2M687.9,275.2h9.2m-4.6-4.6v9.2M688.0,295.9h9.2m-4.6-4.6v9.2M689.9,287.2h9.2m-4.6-4.6v9.2M690.4,293.8h9.2m-4.6-4.6v9.2M690.5,287.5h9.2m-4.6-4.6v9.2M691.2,282.7h9.2m-4.6-4.6v9.2M691.4,272.3h9.2m-4.6-4.6v9.2M691.5,293.3h9.2m-4.6-4.6v9.2M692.2,301.1h9.2m-4.6-4.6v9.2M692.6,298.1h9.2m-4.6-4.6v9.2M693.0,280.8h9.2m-4.6-4.6v9.2M694.2,293.1h9.2m-4.6-4.6v9.2M694.9,277.0h9.2m-4.6-4.6v9.2M695.4,289.4h9.2m-4.6-4.6v9.2M695.6,290.7h9.2m-4.6-4.6v9.2M695.9,285.8h9.2m-4.6-4.6v9.2M696.1,270.0h9.2m-4.6-4.6v9.2M696.8,278.3h9.2m-4.6-4.6v9.2M696.9,291.9h9.2m-4.6-4.6v9.2M696.9,266.4h9.2m-4.6-4.6v9.2M697.1,276.0h9.2m-4.6-4.6v9.2M697.2,270.7h9.2m-4.6-4.6v9.2M697.5,288.5h9.2m-4.6-4.6v9.2M697.9,289.9h9.2m-4.6-4.6v9.2M698.1,275.0h9.2m-4.6-4.6v9.2M698.4,286.0h9.2m-4.6-4.6v9.2M698.5,280.3h9.2m-4.6-4.6v9.2M698.9,283.1h9.2m-4.6-4.6v9.2M699.3,291.5h9.2m-4.6-4.6v9.2M699.9,299.0h9.2m-4.6-4.6v9.2M700.9,278.8h9.2m-4.6-4.6v9.2M701.6,281.3h9.2m-4.6-4.6v9.2M702.2,297.4h9.2m-4.6-4.6v9.2M702.6,275.6h9.2m-4.6-4.6v9.2M702.6,292.9h9.2m-4.6-4.6v9.2M702.8,285.8h9.2m-4.6-4.6v9.2M702.9,285.9h9.2m-4.6-4.6v9.2M704.2,275.2h9.2m-4.6-4.6v9.2M705.3,289.4h9.2m-4.6-4.6v9.2M705.6,274.2h9.2m-4.6-4.6v9.2M706.3,290.1h9.2m-4.6-4.6v9.2M706.3,287.6h9.2m-4.6-4.6v9.2M707.1,298.2h9.2m-4.6-4.6v9.2M707.6,276.9h9.2m-4.6-4.6v9.2M708.6,278.2h9.2m-4.6-4.6v9.2M709.3,280.6h9.2m-4.6-4.6v9.2M709.5,286.2h9.2m-4.6-4.6v9.2M710.1,293.0h9.2m-4.6-4.6v9.2M710.7,269.8h9.2m-4.6-4.6v9.2M710.8,298.4h9.2m-4.6-4.6v9.2M711.2,277.9h9.2m-4.6-4.6v9.2M711.3,289.6h9.2m-4.6-4.6v9.2M712.4,295.4h9.2m-4.6-4.6v9.2M713.3,267.1h9.2m-4.6-4.6v9.2M713.5,282.0h9.2m-4.6-4.6v9.2M713.9,293.0h9.2m-4.6-4.6v9.2M714.1,277.4h9.2m-4.6-4.6v9.2M715.6,276.6h9.2m-4.6-4.6v9.2M715.9,289.1h9.2m-4.6-4.6v9.2M716.0,296.8h9.2m-4.6-4.6v9.2M716.6,285.9h9.2m-4.6-4.6v9.2M716.6,289.8h9.2m-4.6-4.6v9.2M716.7,303.5h9.2m-4.6-4.6v9.2M716.9,284.8h9.2m-4.6-4.6v9.2M717.1,282.8h9.2m-4.6-4.6v9.2M717.3,299.4h9.2m-4.6-4.6v9.2M717.3,266.8h9.2m-4.6-4.6v9.2M717.5,279.3h9.2m-4.6-4.6v9.2M718.5,291.3h9.2m-4.6-4.6v9.2M718.8,279.1h9.2m-4.6-4.6v9.2M718.9,290.1h9.2m-4.6-4.6v9.2M720.5,277.3h9.2m-4.6-4.6v9.2M720.8,277.4h9.2m-4.6-4.6v9.2M721.1,285.8h9.2m-4.6-4.6v9.2M721.3,282.2h9.2m-4.6-4.6v9.2M721.5,289.5h9.2m-4.6-4.6v9.2M722.9,290.6h9.2m-4.6-4.6v9.2M723.5,275.4h9.2m-4.6-4.6v9.2M724.0,279.1h9.2m-4.6-4.6v9.2M724.8,274.7h9.2m-4.6-4.6v9.2M725.2,298.8h9.2m-4.6-4.6v9.2M726.2,283.1h9.2m-4.6-4.6v9.2M726.3,277.9h9.2m-4.6-4.6v9.2M726.4,286.3h9.2m-4.6-4.6v9.2M726.5,277.7h9.2m-4.6-4.6v9.2M727.1,291.2h9.2m-4.6-4.6v9.2M727.3,301.5h9.2m-4.6-4.6v9.2M727.8,286.8h9.2m-4.6-4.6v9.2M727.8,276.3h9.2m-4.6-4.6v9.2M728.3,276.3h9.2m-4.6-4.6v9.2M728.5,282.2h9.2m-4.6-4.6v9.2M728.9,294.9h9.2m-4.6-4.6v9.2M729.0,278.3h9.2m-4.6-4.6v9.2M729.1,286.3h9.2m-4.6-4.6v9.2M729.2,284.7h9.2m-4.6-4.6v9.2M729.4,282.6h9.2m-4.6-4.6v9.2M729.6,280.7h9.2m-4.6-4.6v9.2M730.2,284.7h9.2m-4.6-4.6v9.2M730.5,276.0h9.2m-4.6-4.6v9.2M731.0,261.7h9.2m-4.6-4.6v9.2M731.1,274.9h9.2m-4.6-4.6v9.2M731.3,287.0h9.2m-4.6-4.6v9.2M731.6,287.1h9.2m-4.6-4.6v9.2M732.3,293.6h9.2m-4.6-4.6v9.2M732.8,276.2h9.2m-4.6-4.6v9.2M734.2,286.9h9.2m-4.6-4.6v9.2M735.0,283.6h9.2m-4.6-4.6v9.2M735.3,288.7h9.2m-4.6-4.6v9.2M735.3,279.2h9.2m-4.6-4.6v9.2M736.4,298.6h9.2m-4.6-4.6v9.2M736.7,295.9h9.2m-4.6-4.6v9.2M737.1,279.9h9.2m-4.6-4.6v9.2M737.2,291.6h9.2m-4.6-4.6v9.2M737.5,295.5h9.2m-4.6-4.6v9.2M738.0,268.2h9.2m-4.6-4.6v9.2M738.2,280.6h9.2m-4.6-4.6v9.2M738.4,287.5h9.2m-4.6-4.6v9.2M738.6,292.4h9.2m-4.6-4.6v9.2M738.8,295.9h9.2m-4.6-4.6v9.2M739.7,278.4h9.2m-4.6-4.6v9.2M740.5,283.6h9.2m-4.6-4.6v9.2M740.9,289.8h9.2m-4.6-4.6v9.2M741.8,299.6h9.2m-4.6-4.6v9.2M742.0,284.2h9.2m-4.6-4.6v9.2M742.1,293.0h9.2m-4.6-4.6v9.2M742.2,285.3h9.2m-4.6-4.6v9.2M742.6,299.8h9.2m-4.6-4.6v9.2M742.7,296.6h9.2m-4.6-4.6v9.2M743.0,301.5h9.2m-4.6-4.6v9.2M744.4,289.8h9.2m-4.6-4.6v9.2M745.1,293.8h9.2m-4.6-4.6v9.2M745.2,286.6h9.2m-4.6-4.6v9.2M745.3,286.7h9.2m-4.6-4.6v9.2M745.8,271.2h9.2m-4.6-4.6v9.2M746.2,280.2h9.2m-4.6-4.6v9.2M746.3,294.8h9.2m-4.6-4.6v9.2M747.4,297.0h9.2m-4.6-4.6v9.2M748.1,286.4h9.2m-4.6-4.6v9.2M748.9,297.9h9.2m-4.6-4.6v9.2M749.0,285.9h9.2m-4.6-4.6v9.2M749.3,280.7h9.2m-4.6-4.6v9.2M749.5,278.4h9.2m-4.6-4.6v9.2M750.0,282.2h9.2m-4.6-4.6v9.2M750.3,286.2h9.2m-4.6-4.6v9.2M751.4,295.3h9.2m-4.6-4.6v9.2M751.4,280.2h9.2m-4.6-4.6v9.2M751.7,293.2h9.2m-4.6-4.6v9.2M752.0,287.7h9.2m-4.6-4.6v9.2M752.3,290.1h9.2m-4.6-4.6v9.2M752.4,278.6h9.2m-4.6-4.6v9.2M752.8,284.2h9.2m-4.6-4.6v9.2M753.0,278.2h9.2m-4.6-4.6v9.2M753.1,276.1h9.2m-4.6-4.6v9.2M754.4,267.1h9.2m-4.6-4.6v9.2M754.5,284.4h9.2m-4.6-4.6v9.2M755.6,280.0h9.2m-4.6-4.6v9.2M756.8,304.4h9.2m-4.6-4.6v9.2M757.7,290.4h9.2m-4.6-4.6v9.2M758.1,297.2h9.2m-4.6-4.6v9.2M758.6,312.3h9.2m-4.6-4.6v9.2M759.3,291.4h9.2m-4.6-4.6v9.2M760.3,295.3h9.2m-4.6-4.6v9.2M760.8,311.0h9.2m-4.6-4.6v9.2M760.9,312.2h9.2m-4.6-4.6v9.2M762.0,314.3h9.2m-4.6-4.6v9.2M762.2,299.4h9.2m-4.6-4.6v9.2M762.9,314.4h9.2m-4.6-4.6v9.2M763.0,298.3h9.2m-4.6-4.6v9.2M763.5,282.8h9.2m-4.6-4.6v9.2M764.4,309.6h9.2m-4.6-4.6v9.2M764.4,311.0h9.2m-4.6-4.6v9.2M764.5,323.6h9.2m-4.6-4.6v9.2M764.5,301.2h9.2m-4.6-4.6v9.2M764.7,298.8h9.2m-4.6-4.6v9.2M766.4,316.2h9.2m-4.6-4.6v9.2M766.6,308.0h9.2m-4.6-4.6v9.2M767.1,320.3h9.2m-4.6-4.6v9.2M768.1,316.5h9.2m-4.6-4.6v9.2M768.4,304.5h9.2m-4.6-4.6v9.2M768.6,317.5h9.2m-4.6-4.6v9.2M769.0,318.0h9.2m-4.6-4.6v9.2M769.0,307.0h9.2m-4.6-4.6v9.2M771.2,312.3h9.2m-4.6-4.6v9.2M771.7,306.7h9.2m-4.6-4.6v9.2M772.1,309.6h9.2m-4.6-4.6v9.2M772.3,306.7h9.2m-4.6-4.6v9.2M772.5,304.3h9.2m-4.6-4.6v9.2M772.8,295.8h9.2m-4.6-4.6v9.2M773.2,302.0h9.2m-4.6-4.6v9.2M773.4,287.5h9.2m-4.6-4.6v9.2M774.4,310.2h9.2m-4.6-4.6v9.2M774.5,309.8h9.2m-4.6-4.6v9.2M775.0,294.1h9.2m-4.6-4.6v9.2M775.2,320.2h9.2m-4.6-4.6v9.2M775.9,302.3h9.2m-4.6-4.6v9.2M776.0,304.4h9.2m-4.6-4.6v9.2M777.1,299.6h9.2m-4.6-4.6v9.2M777.1,318.7h9.2m-4.6-4.6v9.2M777.4,314.8h9.2m-4.6-4.6v9.2M777.6,315.7h9.2m-4.6-4.6v9.2M777.7,316.8h9.2m-4.6-4.6v9.2M777.8,289.3h9.2m-4.6-4.6v9.2M777.9,298.2h9.2m-4.6-4.6v9.2M777.9,302.8h9.2m-4.6-4.6v9.2M778.0,307.5h9.2m-4.6-4.6v9.2M778.1,312.4h9.2m-4.6-4.6v9.2M778.6,315.9h9.2m-4.6-4.6v9.2M779.3,316.3h9.2m-4.6-4.6v9.2M780.2,292.8h9.2m-4.6-4.6v9.2M780.6,298.3h9.2m-4.6-4.6v9.2M780.6,279.6h9.2m-4.6-4.6v9.2M780.6,280.1h9.2m-4.6-4.6v9.2M780.8,299.0h9.2m-4.6-4.6v9.2M782.0,315.9h9.2m-4.6-4.6v9.2M782.0,284.0h9.2m-4.6-4.6v9.2M782.9,316.7h9.2m-4.6-4.6v9.2M783.3,318.7h9.2m-4.6-4.6v9.2M783.4,302.8h9.2m-4.6-4.6v9.2M783.5,305.2h9.2m-4.6-4.6v9.2M783.7,311.3h9.2m-4.6-4.6v9.2M783.7,316.2h9.2m-4.6-4.6v9.2M784.3,318.5h9.2m-4.6-4.6v9.2M784.5,296.1h9.2m-4.6-4.6v9.2M785.2,292.6h9.2m-4.6-4.6v9.2M785.9,297.9h9.2m-4.6-4.6v9.2M786.1,296.1h9.2m-4.6-4.6v9.2M787.2,300.2h9.2m-4.6-4.6v9.2M787.3,306.4h9.2m-4.6-4.6v9.2M787.8,306.2h9.2m-4.6-4.6v9.2M788.1,293.6h9.2m-4.6-4.6v9.2M788.2,293.9h9.2m-4.6-4.6v9.2M788.2,308.6h9.2m-4.6-4.6v9.2M788.5,314.9h9.2m-4.6-4.6v9.2M788.8,312.3h9.2m-4.6-4.6v9.2M789.2,324.4h9.2m-4.6-4.6v9.2M789.7,289.8h9.2m-4.6-4.6v9.2M790.0,307.6h9.2m-4.6-4.6v9.2M790.1,323.0h9.2m-4.6-4.6v9.2M791.0,285.6h9.2m-4.6-4.6v9.2M791.1,300.0h9.2m-4.6-4.6v9.2M794.9,313.8h9.2m-4.6-4.6v9.2M795.1,300.6h9.2m-4.6-4.6v9.2M796.1,310.5h9.2m-4.6-4.6v9.2M797.4,314.5h9.2m-4.6-4.6v9.2M797.8,294.2h9.2m-4.6-4.6v9.2M798.2,307.3h9.2m-4.6-4.6v9.2M799.2,293.6h9.2m-4.6-4.6v9.2M799.5,312.6h9.2m-4.6-4.6v9.2M799.7,289.5h9.2m-4.6-4.6v9.2M800.2,313.9h9.2m-4.6-4.6v9.2M800.2,294.5h9.2m-4.6-4.6v9.2M800.5,305.6h9.2m-4.6-4.6v9.2M801.1,305.6h9.2m-4.6-4.6v9.2M801.1,283.6h9.2m-4.6-4.6v9.2M801.4,314.3h9.2m-4.6-4.6v9.2M801.5,314.7h9.2m-4.6-4.6v9.2M801.8,301.6h9.2m-4.6-4.6v9.2M802.9,302.0h9.2m-4.6-4.6v9.2M803.1,309.4h9.2m-4.6-4.6v9.2M803.3,315.8h9.2m-4.6-4.6v9.2M803.6,320.9h9.2m-4.6-4.6v9.2M803.9,310.5h9.2m-4.6-4.6v9.2M804.3,330.3h9.2m-4.6-4.6v9.2M804.6,299.6h9.2m-4.6-4.6v9.2M805.0,306.5h9.2m-4.6-4.6v9.2M805.4,297.5h9.2m-4.6-4.6v9.2M805.6,303.3h9.2m-4.6-4.6v9.2M805.7,300.5h9.2m-4.6-4.6v9.2M805.8,304.9h9.2m-4.6-4.6v9.2M806.0,295.2h9.2m-4.6-4.6v9.2M806.0,300.7h9.2m-4.6-4.6v9.2M806.2,303.7h9.2m-4.6-4.6v9.2M806.9,295.9h9.2m-4.6-4.6v9.2M807.0,321.5h9.2m-4.6-4.6v9.2M807.2,308.3h9.2m-4.6-4.6v9.2M807.3,312.4h9.2m-4.6-4.6v9.2M807.5,303.1h9.2m-4.6-4.6v9.2M808.3,297.5h9.2m-4.6-4.6v9.2M809.1,301.1h9.2m-4.6-4.6v9.2M809.2,298.4h9.2m-4.6-4.6v9.2M809.4,316.3h9.2m-4.6-4.6v9.2M809.6,303.6h9.2m-4.6-4.6v9.2M809.7,301.6h9.2m-4.6-4.6v9.2M810.0,304.8h9.2m-4.6-4.6v9.2M811.4,319.3h9.2m-4.6-4.6v9.2M811.9,284.6h9.2m-4.6-4.6v9.2M812.1,308.3h9.2m-4.6-4.6v9.2M812.4,314.4h9.2m-4.6-4.6v9.2M812.4,304.1h9.2m-4.6-4.6v9.2M812.6,322.2h9.2m-4.6-4.6v9.2M812.9,312.7h9.2m-4.6-4.6v9.2M813.2,274.9h9.2m-4.6-4.6v9.2M813.8,325.4h9.2m-4.6-4.6v9.2M814.4,312.3h9.2m-4.6-4.6v9.2M814.5,298.6h9.2m-4.6-4.6v9.2M814.9,294.1h9.2m-4.6-4.6v9.2M815.0,287.9h9.2m-4.6-4.6v9.2M815.4,313.7h9.2m-4.6-4.6v9.2M815.5,307.4h9.2m-4.6-4.6v9.2M816.8,291.4h9.2m-4.6-4.6v9.2M816.9,318.2h9.2m-4.6-4.6v9.2M817.6,315.2h9.2m-4.6-4.6v9.2M817.7,304.6h9.2m-4.6-4.6v9.2M818.1,286.6h9.2m-4.6-4.6v9.2M818.4,285.2h9.2m-4.6-4.6v9.2M818.5,305.3h9.2m-4.6-4.6v9.2M819.1,307.4h9.2m-4.6-4.6v9.2M819.2,301.9h9.2m-4.6-4.6v9.2M819.3,290.2h9.2m-4.6-4.6v9.2M819.4,315.4h9.2m-4.6-4.6v9.2M819.9,310.3h9.2m-4.6-4.6v9.2M820.5,295.5h9.2m-4.6-4.6v9.2M820.6,307.6h9.2m-4.6-4.6v9.2M821.0,289.7h9.2m-4.6-4.6v9.2M821.2,314.1h9.2m-4.6-4.6v9.2M821.3,299.2h9.2m-4.6-4.6v9.2M821.7,287.9h9.2m-4.6-4.6v9.2M821.9,298.8h9.2m-4.6-4.6v9.2M821.9,292.5h9.2m-4.6-4.6v9.2M822.3,310.1h9.2m-4.6-4.6v9.2M822.5,305.8h9.2m-4.6-4.6v9.2M822.7,300.3h9.2m-4.6-4.6v9.2M823.7,297.3h9.2m-4.6-4.6v9.2M823.9,317.7h9.2m-4.6-4.6v9.2M823.9,290.8h9.2m-4.6-4.6v9.2M824.1,297.5h9.2m-4.6-4.6v9.2M824.2,312.8h9.2m-4.6-4.6v9.2M824.3,302.3h9.2m-4.6-4.6v9.2M824.9,320.4h9.2m-4.6-4.6v9.2M825.0,304.7h9.2m-4.6-4.6v9.2M825.4,309.0h9.2m-4.6-4.6v9.2M825.7,306.9h9.2m-4.6-4.6v9.2M827.7,306.3h9.2m-4.6-4.6v9.2M828.4,310.5h9.2m-4.6-4.6v9.2M828.5,315.4h9.2m-4.6-4.6v9.2M829.5,313.8h9.2m-4.6-4.6v9.2M829.8,303.0h9.2m-4.6-4.6v9.2M830.6,300.1h9.2m-4.6-4.6v9.2M830.8,308.3h9.2m-4.6-4.6v9.2M830.9,294.4h9.2m-4.6-4.6v9.2M831.7,304.7h9.2m-4.6-4.6v9.2M832.0,307.2h9.2m-4.6-4.6v9.2M832.0,299.5h9.2m-4.6-4.6v9.2M832.2,309.0h9.2m-4.6-4.6v9.2M832.4,316.0h9.2m-4.6-4.6v9.2M832.5,304.8h9.2m-4.6-4.6v9.2M834.3,300.8h9.2m-4.6-4.6v9.2M834.6,301.5h9.2m-4.6-4.6v9.2M834.8,303.4h9.2m-4.6-4.6v9.2M834.8,299.9h9.2m-4.6-4.6v9.2M835.0,287.8h9.2m-4.6-4.6v9.2M835.2,290.6h9.2m-4.6-4.6v9.2M835.3,291.7h9.2m-4.6-4.6v9.2M835.7,314.6h9.2m-4.6-4.6v9.2M836.3,310.3h9.2m-4.6-4.6v9.2M837.9,300.7h9.2m-4.6-4.6v9.2M837.9,301.5h9.2m-4.6-4.6v9.2M838.0,315.2h9.2m-4.6-4.6v9.2M838.2,318.1h9.2m-4.6-4.6v9.2M838.6,284.7h9.2m-4.6-4.6v9.2M839.4,284.0h9.2m-4.6-4.6v9.2M839.5,317.7h9.2m-4.6-4.6v9.2M841.2,297.5h9.2m-4.6-4.6v9.2M841.2,299.8h9.2m-4.6-4.6v9.2M841.5,295.3h9.2m-4.6-4.6v9.2M841.5,305.3h9.2m-4.6-4.6v9.2M842.6,294.2h9.2m-4.6-4.6v9.2M843.1,292.7h9.2m-4.6-4.6v9.2M844.1,305.9h9.2m-4.6-4.6v9.2M844.2,296.3h9.2m-4.6-4.6v9.2M844.6,310.1h9.2m-4.6-4.6v9.2M845.5,301.8h9.2m-4.6-4.6v9.2M845.7,306.9h9.2m-4.6-4.6v9.2M845.7,298.4h9.2m-4.6-4.6v9.2M845.7,315.5h9.2m-4.6-4.6v9.2M845.9,300.3h9.2m-4.6-4.6v9.2M846.0,307.0h9.2m-4.6-4.6v9.2M846.1,292.4h9.2m-4.6-4.6v9.2M846.2,295.7h9.2m-4.6-4.6v9.2M846.5,290.0h9.2m-4.6-4.6v9.2M846.9,294.9h9.2m-4.6-4.6v9.2M847.3,295.1h9.2m-4.6-4.6v9.2M847.6,289.6h9.2m-4.6-4.6v9.2M847.6,321.9h9.2m-4.6-4.6v9.2M848.1,293.4h9.2m-4.6-4.6v9.2M848.4,303.5h9.2m-4.6-4.6v9.2M848.9,292.6h9.2m-4.6-4.6v9.2M849.4,304.1h9.2m-4.6-4.6v9.2M849.4,312.3h9.2m-4.6-4.6v9.2M849.7,285.7h9.2m-4.6-4.6v9.2M850.0,311.3h9.2m-4.6-4.6v9.2M850.7,291.1h9.2m-4.6-4.6v9.2M850.7,304.4h9.2m-4.6-4.6v9.2M850.7,308.9h9.2m-4.6-4.6v9.2M851.7,314.8h9.2m-4.6-4.6v9.2M851.8,290.9h9.2m-4.6-4.6v9.2M852.0,303.6h9.2m-4.6-4.6v9.2M852.2,323.4h9.2m-4.6-4.6v9.2M852.5,304.3h9.2m-4.6-4.6v9.2M852.6,306.9h9.2m-4.6-4.6v9.2M852.6,320.0h9.2m-4.6-4.6v9.2M852.8,286.4h9.2m-4.6-4.6v9.2M852.9,312.5h9.2m-4.6-4.6v9.2M853.2,294.2h9.2m-4.6-4.6v9.2M853.5,292.2h9.2m-4.6-4.6v9.2M853.6,312.3h9.2m-4.6-4.6v9.2M855.4,307.6h9.2m-4.6-4.6v9.2M856.0,305.0h9.2m-4.6-4.6v9.2M856.1,314.1h9.2m-4.6-4.6v9.2M856.2,300.6h9.2m-4.6-4.6v9.2M856.2,301.4h9.2m-4.6-4.6v9.2M856.3,291.0h9.2m-4.6-4.6v9.2M856.6,305.9h9.2m-4.6-4.6v9.2M856.7,291.4h9.2m-4.6-4.6v9.2M857.1,308.1h9.2m-4.6-4.6v9.2M857.1,306.6h9.2m-4.6-4.6v9.2M857.5,297.5h9.2m-4.6-4.6v9.2M858.3,300.2h9.2m-4.6-4.6v9.2M858.3,298.5h9.2m-4.6-4.6v9.2M858.6,317.4h9.2m-4.6-4.6v9.2M858.7,314.9h9.2m-4.6-4.6v9.2M859.4,308.8h9.2m-4.6-4.6v9.2M860.5,301.6h9.2m-4.6-4.6v9.2M860.6,285.2h9.2m-4.6-4.6v9.2M861.2,321.7h9.2m-4.6-4.6v9.2M861.2,318.5h9.2m-4.6-4.6v9.2M861.3,289.3h9.2m-4.6-4.6v9.2M862.0,299.6h9.2m-4.6-4.6v9.2M862.2,328.7h9.2m-4.6-4.6v9.2M862.4,282.9h9.2m-4.6-4.6v9.2M863.1,292.3h9.2m-4.6-4.6v9.2M864.7,315.2h9.2m-4.6-4.6v9.2M865.4,315.2h9.2m-4.6-4.6v9.2M866.4,297.4h9.2m-4.6-4.6v9.2M867.2,297.4h9.2m-4.6-4.6v9.2M867.6,305.4h9.2m-4.6-4.6v9.2M869.1,323.0h9.2m-4.6-4.6v9.2M870.4,304.2h9.2m-4.6-4.6v9.2M870.8,315.8h9.2m-4.6-4.6v9.2M871.3,308.9h9.2m-4.6-4.6v9.2M871.3,284.1h9.2m-4.6-4.6v9.2M871.5,298.6h9.2m-4.6-4.6v9.2M872.5,301.5h9.2m-4.6-4.6v9.2M872.6,312.1h9.2m-4.6-4.6v9.2M872.9,299.8h9.2m-4.6-4.6v9.2M873.5,288.4h9.2m-4.6-4.6v9.2M873.7,283.1h9.2m-4.6-4.6v9.2M874.2,292.9h9.2m-4.6-4.6v9.2M874.3,288.6h9.2m-4.6-4.6v9.2M874.4,305.7h9.2m-4.6-4.6v9.2M874.6,284.7h9.2m-4.6-4.6v9.2M874.6,274.8h9.2m-4.6-4.6v9.2M875.1,306.6h9.2m-4.6-4.6v9.2M875.6,303.9h9.2m-4.6-4.6v9.2M875.7,308.3h9.2m-4.6-4.6v9.2M876.0,314.1h9.2m-4.6-4.6v9.2" stroke="#ff0000" stroke-width="2.2" fill="none"/>
<path d="M123.2,54.9H322.2V147.1H441.8V239.2H561.5V285.6H761V308.8H881.2" fill="none" stroke="#000" stroke-width="2.4"/>
<text transform="translate(88.21,57.95) scale(1.0300,1)" font-size="21.80" fill="#ff0000">1</text>
<text transform="translate(56.87,141.99) scale(1.0300,1)" font-size="21.80" fill="#ff0000">0.98</text>
<text transform="translate(56.88,226.03) scale(1.0300,1)" font-size="21.80" fill="#ff0000">0.96</text>
<text transform="translate(56.56,310.07) scale(1.0300,1)" font-size="21.80" fill="#ff0000">0.94</text>
<text transform="translate(57.03,394.11) scale(1.0300,1)" font-size="21.80" fill="#ff0000">0.92</text>
<text transform="translate(69.45,478.15) scale(1.0300,1)" font-size="21.80" fill="#ff0000">0.9</text>
<text transform="translate(910.49,16.40) scale(1.0419,1)" font-size="21.20" fill="#595959">27.1</text>
<text transform="translate(910.49,108.58) scale(1.0411,1)" font-size="21.20" fill="#595959">26.9</text>
<text transform="translate(910.49,200.86) scale(1.0427,1)" font-size="21.20" fill="#595959">26.7</text>
<text transform="translate(910.49,293.14) scale(1.0380,1)" font-size="21.20" fill="#595959">26.5</text>
<text transform="translate(910.49,385.42) scale(1.0391,1)" font-size="21.20" fill="#595959">26.3</text>
<text transform="translate(910.49,477.70) scale(1.0419,1)" font-size="21.20" fill="#595959">26.1</text>
<text transform="translate(116.96,507.93) scale(1.0200,1)" font-size="21.30" fill="#595959">0</text>
<text transform="translate(264.83,507.93) scale(1.0200,1)" font-size="21.30" fill="#595959">1000</text>
<text transform="translate(431.51,507.93) scale(1.0200,1)" font-size="21.30" fill="#595959">2000</text>
<text transform="translate(598.04,507.93) scale(1.0200,1)" font-size="21.30" fill="#595959">3000</text>
<text transform="translate(764.61,507.93) scale(1.0200,1)" font-size="21.30" fill="#595959">4000</text>
<text transform="translate(455.79,542.20) scale(1.0074,1)" font-size="26.74" fill="#595959">Time (s)</text>
<text transform="translate(43.80,387.82) rotate(-90) scale(0.9226,1)" font-size="28.05" fill="#ff0000">Normalized Beam Energy</text>
<text transform="translate(987.80,405.36) rotate(-90) scale(1.0183,1)" font-size="25.87" fill="#595959">RF Amplitude Setpoint (a.u.)</text>
<text transform="translate(846.49,39.32) scale(0.9459,1)" font-size="30.81" fill="#000">(a)</text>
<path d="M629.3,82H638.5M633.9,77.4V86.6" stroke="#ff0000" stroke-width="2.2"/>
<text transform="translate(655.32,87.40) scale(1.0194,1)" font-size="15.26" fill="#595959">Normalized beam energy</text>
<path d="M615,123.2H653.7" stroke="#000" stroke-width="2.4"/>
<text transform="translate(655.35,128.10) scale(1.0019,1)" font-size="15.26" fill="#595959">RF amplitude</text>
<path d="M141.0,605.0H901.4V1017.5H141.0Z" fill="none" stroke="#262626" stroke-width="2"/>
<path d="M141.0,708.12h9M141.0,811.25h9M141.0,914.38h9M901.4,687.50h-9.5M901.4,770.00h-9.5M901.4,852.50h-9.5M901.4,935.00h-9.5" stroke="#262626" stroke-width="2"/>
<path d="M141.0,788.8L146.4,846.0L151.9,814.0L157.3,732.0L162.7,802.6L168.1,770.1L173.6,746.9L179.0,739.8L184.4,763.3L189.8,783.6L195.3,812.9L200.7,742.2L206.1,695.8L211.6,736.0L217.0,705.2L222.4,705.2L227.8,714.9L233.3,778.3L238.7,837.5L244.1,790.0L249.5,733.3L255.0,785.9L260.4,946.4L265.8,839.0L271.2,808.0L276.7,791.3L282.1,790.0L287.5,856.0L293.0,897.7L298.4,852.2L303.8,916.0L309.2,900.1L314.7,962.6L320.1,911.1L325.5,839.5L330.9,922.0L336.4,905.0L341.8,875.4L347.2,899.8L352.7,855.6L358.1,904.8L363.5,1004.1L368.9,812.7L374.4,875.8L379.8,906.0L385.2,951.5L390.6,892.0L396.1,844.3L401.5,820.8L406.9,927.1L412.3,869.5L417.8,801.3L423.2,866.5L428.6,880.7L434.1,856.3L439.5,871.4L444.9,844.3L450.3,839.0L455.8,808.6L461.2,847.0L466.6,765.6L472.0,746.7L477.5,739.3L482.9,742.9L488.3,792.9L493.8,703.6L499.2,718.5L504.6,746.2L510.0,778.6L515.5,674.4L520.9,665.4L526.3,764.5L531.7,871.5L537.2,737.7L542.6,723.9L548.0,715.0L553.5,811.6L558.9,724.7L564.3,677.3L569.7,739.0L575.2,784.4L580.6,825.0L586.0,801.5L591.4,779.1L596.9,777.1L602.3,847.2L607.7,866.5L613.1,765.3L618.6,855.5L624.0,897.4L629.4,904.7L634.9,824.2L640.3,838.8L645.7,846.1L651.1,901.5L656.6,929.9L662.0,849.0L667.4,828.6L672.8,877.9L678.3,865.4L683.7,862.7L689.1,811.0L694.6,849.0L700.0,897.7L705.4,870.7L710.8,758.1L716.3,754.4L721.7,873.5L727.1,884.7L732.5,855.2L738.0,773.4L743.4,802.0L748.8,872.5L754.3,845.1L759.7,711.7L765.1,794.5L770.5,779.6L776.0,838.1L781.4,793.9L786.8,768.2L792.2,745.0L797.7,776.0L803.1,747.7L808.5,674.6L813.9,765.2L819.4,752.9L824.8,759.1L830.2,755.0L835.7,710.0L841.1,799.4L846.5,814.6L851.9,759.4L857.4,791.2L862.8,806.5L868.2,854.5" fill="none" stroke="#ffcccc" stroke-width="1"/>
<path d="M141.0,784.6l4.0,8.4h-8.0zM146.4,841.8l4.0,8.4h-8.0zM151.9,809.8l4.0,8.4h-8.0zM157.3,727.8l4.0,8.4h-8.0zM162.7,798.4l4.0,8.4h-8.0zM168.1,765.9l4.0,8.4h-8.0zM173.6,742.7l4.0,8.4h-8.0zM179.0,735.6l4.0,8.4h-8.0zM184.4,759.1l4.0,8.4h-8.0zM189.8,779.4l4.0,8.4h-8.0zM195.3,808.7l4.0,8.4h-8.0zM200.7,738.0l4.0,8.4h-8.0zM206.1,691.6l4.0,8.4h-8.0zM211.6,731.8l4.0,8.4h-8.0zM217.0,701.0l4.0,8.4h-8.0zM222.4,701.0l4.0,8.4h-8.0zM227.8,710.7l4.0,8.4h-8.0zM233.3,774.1l4.0,8.4h-8.0zM238.7,833.3l4.0,8.4h-8.0zM244.1,785.8l4.0,8.4h-8.0zM249.5,729.1l4.0,8.4h-8.0zM255.0,781.7l4.0,8.4h-8.0zM260.4,942.2l4.0,8.4h-8.0zM265.8,834.8l4.0,8.4h-8.0zM271.2,803.8l4.0,8.4h-8.0zM276.7,787.1l4.0,8.4h-8.0zM282.1,785.8l4.0,8.4h-8.0zM287.5,851.8l4.0,8.4h-8.0zM293.0,893.5l4.0,8.4h-8.0zM298.4,848.0l4.0,8.4h-8.0zM303.8,911.8l4.0,8.4h-8.0zM309.2,895.9l4.0,8.4h-8.0zM314.7,958.4l4.0,8.4h-8.0zM320.1,906.9l4.0,8.4h-8.0zM325.5,835.3l4.0,8.4h-8.0zM330.9,917.8l4.0,8.4h-8.0zM336.4,900.8l4.0,8.4h-8.0zM341.8,871.2l4.0,8.4h-8.0zM347.2,895.6l4.0,8.4h-8.0zM352.7,851.4l4.0,8.4h-8.0zM358.1,900.6l4.0,8.4h-8.0zM363.5,999.9l4.0,8.4h-8.0zM368.9,808.5l4.0,8.4h-8.0zM374.4,871.6l4.0,8.4h-8.0zM379.8,901.8l4.0,8.4h-8.0zM385.2,947.3l4.0,8.4h-8.0zM390.6,887.8l4.0,8.4h-8.0zM396.1,840.1l4.0,8.4h-8.0zM401.5,816.6l4.0,8.4h-8.0zM406.9,922.9l4.0,8.4h-8.0zM412.3,865.3l4.0,8.4h-8.0zM417.8,797.1l4.0,8.4h-8.0zM423.2,862.3l4.0,8.4h-8.0zM428.6,876.5l4.0,8.4h-8.0zM434.1,852.1l4.0,8.4h-8.0zM439.5,867.2l4.0,8.4h-8.0zM444.9,840.1l4.0,8.4h-8.0zM450.3,834.8l4.0,8.4h-8.0zM455.8,804.4l4.0,8.4h-8.0zM461.2,842.8l4.0,8.4h-8.0zM466.6,761.4l4.0,8.4h-8.0zM472.0,742.5l4.0,8.4h-8.0zM477.5,735.1l4.0,8.4h-8.0zM482.9,738.7l4.0,8.4h-8.0zM488.3,788.7l4.0,8.4h-8.0zM493.8,699.4l4.0,8.4h-8.0zM499.2,714.3l4.0,8.4h-8.0zM504.6,742.0l4.0,8.4h-8.0zM510.0,774.4l4.0,8.4h-8.0zM515.5,670.2l4.0,8.4h-8.0zM520.9,661.2l4.0,8.4h-8.0zM526.3,760.3l4.0,8.4h-8.0zM531.7,867.3l4.0,8.4h-8.0zM537.2,733.5l4.0,8.4h-8.0zM542.6,719.7l4.0,8.4h-8.0zM548.0,710.8l4.0,8.4h-8.0zM553.5,807.4l4.0,8.4h-8.0zM558.9,720.5l4.0,8.4h-8.0zM564.3,673.1l4.0,8.4h-8.0zM569.7,734.8l4.0,8.4h-8.0zM575.2,780.2l4.0,8.4h-8.0zM580.6,820.8l4.0,8.4h-8.0zM586.0,797.3l4.0,8.4h-8.0zM591.4,774.9l4.0,8.4h-8.0zM596.9,772.9l4.0,8.4h-8.0zM602.3,843.0l4.0,8.4h-8.0zM607.7,862.3l4.0,8.4h-8.0zM613.1,761.1l4.0,8.4h-8.0zM618.6,851.3l4.0,8.4h-8.0zM624.0,893.2l4.0,8.4h-8.0zM629.4,900.5l4.0,8.4h-8.0zM634.9,820.0l4.0,8.4h-8.0zM640.3,834.6l4.0,8.4h-8.0zM645.7,841.9l4.0,8.4h-8.0zM651.1,897.3l4.0,8.4h-8.0zM656.6,925.7l4.0,8.4h-8.0zM662.0,844.8l4.0,8.4h-8.0zM667.4,824.4l4.0,8.4h-8.0zM672.8,873.7l4.0,8.4h-8.0zM678.3,861.2l4.0,8.4h-8.0zM683.7,858.5l4.0,8.4h-8.0zM689.1,806.8l4.0,8.4h-8.0zM694.6,844.8l4.0,8.4h-8.0zM700.0,893.5l4.0,8.4h-8.0zM705.4,866.5l4.0,8.4h-8.0zM710.8,753.9l4.0,8.4h-8.0zM716.3,750.2l4.0,8.4h-8.0zM721.7,869.3l4.0,8.4h-8.0zM727.1,880.5l4.0,8.4h-8.0zM732.5,851.0l4.0,8.4h-8.0zM738.0,769.2l4.0,8.4h-8.0zM743.4,797.8l4.0,8.4h-8.0zM748.8,868.3l4.0,8.4h-8.0zM754.3,840.9l4.0,8.4h-8.0zM759.7,707.5l4.0,8.4h-8.0zM765.1,790.3l4.0,8.4h-8.0zM770.5,775.4l4.0,8.4h-8.0zM776.0,833.9l4.0,8.4h-8.0zM781.4,789.7l4.0,8.4h-8.0zM786.8,764.0l4.0,8.4h-8.0zM792.2,740.8l4.0,8.4h-8.0zM797.7,771.8l4.0,8.4h-8.0zM803.1,743.5l4.0,8.4h-8.0zM808.5,670.4l4.0,8.4h-8.0zM813.9,761.0l4.0,8.4h-8.0zM819.4,748.7l4.0,8.4h-8.0zM824.8,754.9l4.0,8.4h-8.0zM830.2,750.8l4.0,8.4h-8.0zM835.7,705.8l4.0,8.4h-8.0zM841.1,795.2l4.0,8.4h-8.0zM846.5,810.4l4.0,8.4h-8.0zM851.9,755.2l4.0,8.4h-8.0zM857.4,787.0l4.0,8.4h-8.0zM862.8,802.3l4.0,8.4h-8.0zM868.2,850.3l4.0,8.4h-8.0z" fill="#ff0000"/>
<path d="M141.0,809.5L141.5,808.6L142.1,807.6L142.6,806.7L143.2,805.8L143.7,804.8L144.3,803.9L144.8,803.0L145.3,802.0L145.9,801.1L146.4,800.2L147.0,799.2L147.5,798.3L148.1,797.4L148.6,796.5L149.1,795.5L149.7,794.6L150.2,793.7L150.8,792.8L151.3,791.9L151.9,791.0L152.4,790.1L152.9,789.2L153.5,788.3L154.0,787.4L154.6,786.5L155.1,785.6L155.7,784.7L156.2,783.8L156.7,782.9L157.3,782.0L157.8,781.2L158.4,780.3L158.9,779.4L159.5,778.6L160.0,777.7L160.5,776.9L161.1,776.0L161.6,775.2L162.2,774.3L162.7,773.5L163.3,772.7L163.8,771.8L164.3,771.0L164.9,770.2L165.4,769.4L166.0,768.6L166.5,767.8L167.0,767.0L167.6,766.2L168.1,765.4L168.7,764.6L169.2,763.9L169.8,763.1L170.3,762.4L170.8,761.6L171.4,760.9L171.9,760.1L172.5,759.4L173.0,758.7L173.6,757.9L174.1,757.2L174.6,756.5L175.2,755.8L175.7,755.1L176.3,754.5L176.8,753.8L177.4,753.1L177.9,752.5L178.4,751.8L179.0,751.2L179.5,750.5L180.1,749.9L180.6,749.3L181.2,748.7L181.7,748.1L182.2,747.5L182.8,746.9L183.3,746.3L183.9,745.7L184.4,745.2L185.0,744.6L185.5,744.1L186.0,743.5L186.6,743.0L187.1,742.5L187.7,742.0L188.2,741.5L188.8,741.0L189.3,740.5L189.8,740.0L190.4,739.6L190.9,739.1L191.5,738.7L192.0,738.2L192.6,737.8L193.1,737.4L193.6,737.0L194.2,736.6L194.7,736.2L195.3,735.8L195.8,735.4L196.4,735.1L196.9,734.7L197.4,734.4L198.0,734.1L198.5,733.7L199.1,733.4L199.6,733.1L200.2,732.9L200.7,732.6L201.2,732.3L201.8,732.0L202.3,731.8L202.9,731.6L203.4,731.3L204.0,731.1L204.5,730.9L205.0,730.7L205.6,730.5L206.1,730.4L206.7,730.2L207.2,730.0L207.8,729.9L208.3,729.8L208.8,729.6L209.4,729.5L209.9,729.4L210.5,729.3L211.0,729.3L211.6,729.2L212.1,729.1L212.6,729.1L213.2,729.0L213.7,729.0L214.3,729.0L214.8,729.0L215.3,729.0L215.9,729.0L216.4,729.0L217.0,729.1L217.5,729.1L218.1,729.2L218.6,729.3L219.1,729.3L219.7,729.4L220.2,729.5L220.8,729.7L221.3,729.8L221.9,729.9L222.4,730.1L222.9,730.2L223.5,730.4L224.0,730.5L224.6,730.7L225.1,730.9L225.7,731.1L226.2,731.4L226.7,731.6L227.3,731.8L227.8,732.1L228.4,732.3L228.9,732.6L229.5,732.9L230.0,733.2L230.5,733.5L231.1,733.8L231.6,734.1L232.2,734.4L232.7,734.8L233.3,735.1L233.8,735.5L234.3,735.8L234.9,736.2L235.4,736.6L236.0,737.0L236.5,737.4L237.1,737.8L237.6,738.3L238.1,738.7L238.7,739.2L239.2,739.6L239.8,740.1L240.3,740.5L240.9,741.0L241.4,741.5L241.9,742.0L242.5,742.5L243.0,743.1L243.6,743.6L244.1,744.1L244.7,744.7L245.2,745.2L245.7,745.8L246.3,746.4L246.8,746.9L247.4,747.5L247.9,748.1L248.5,748.7L249.0,749.3L249.5,750.0L250.1,750.6L250.6,751.2L251.2,751.9L251.7,752.5L252.3,753.2L252.8,753.9L253.3,754.5L253.9,755.2L254.4,755.9L255.0,756.6L255.5,757.3L256.1,758.0L256.6,758.7L257.1,759.5L257.7,760.2L258.2,760.9L258.8,761.7L259.3,762.4L259.9,763.2L260.4,764.0L260.9,764.7L261.5,765.5L262.0,766.3L262.6,767.1L263.1,767.9L263.7,768.7L264.2,769.5L264.7,770.3L265.3,771.1L265.8,771.9L266.4,772.7L266.9,773.6L267.4,774.4L268.0,775.2L268.5,776.1L269.1,776.9L269.6,777.8L270.2,778.7L270.7,779.5L271.2,780.4L271.8,781.3L272.3,782.1L272.9,783.0L273.4,783.9L274.0,784.8L274.5,785.7L275.0,786.6L275.6,787.5L276.1,788.4L276.7,789.3L277.2,790.2L277.8,791.1L278.3,792.0L278.8,792.9L279.4,793.8L279.9,794.7L280.5,795.6L281.0,796.6L281.6,797.5L282.1,798.4L282.6,799.3L283.2,800.3L283.7,801.2L284.3,802.1L284.8,803.1L285.4,804.0L285.9,804.9L286.4,805.9L287.0,806.8L287.5,807.7L288.1,808.7L288.6,809.6L289.2,810.5L289.7,811.5L290.2,812.4L290.8,813.4L291.3,814.3L291.9,815.2L292.4,816.2L293.0,817.1L293.5,818.0L294.0,819.0L294.6,819.9L295.1,820.8L295.7,821.8L296.2,822.7L296.8,823.6L297.3,824.5L297.8,825.5L298.4,826.4L298.9,827.3L299.5,828.2L300.0,829.1L300.6,830.1L301.1,831.0L301.6,831.9L302.2,832.8L302.7,833.7L303.3,834.6L303.8,835.5L304.4,836.4L304.9,837.3L305.4,838.2L306.0,839.0L306.5,839.9L307.1,840.8L307.6,841.7L308.2,842.5L308.7,843.4L309.2,844.3L309.8,845.1L310.3,846.0L310.9,846.8L311.4,847.7L312.0,848.5L312.5,849.3L313.0,850.2L313.6,851.0L314.1,851.8L314.7,852.6L315.2,853.4L315.7,854.2L316.3,855.0L316.8,855.8L317.4,856.6L317.9,857.4L318.5,858.1L319.0,858.9L319.5,859.7L320.1,860.4L320.6,861.2L321.2,861.9L321.7,862.6L322.3,863.4L322.8,864.1L323.3,864.8L323.9,865.5L324.4,866.2L325.0,866.9L325.5,867.6L326.1,868.3L326.6,868.9L327.1,869.6L327.7,870.3L328.2,870.9L328.8,871.5L329.3,872.2L329.9,872.8L330.4,873.4L330.9,874.0L331.5,874.6L332.0,875.2L332.6,875.8L333.1,876.4L333.7,876.9L334.2,877.5L334.7,878.1L335.3,878.6L335.8,879.1L336.4,879.7L336.9,880.2L337.5,880.7L338.0,881.2L338.5,881.7L339.1,882.1L339.6,882.6L340.2,883.1L340.7,883.5L341.3,884.0L341.8,884.4L342.3,884.8L342.9,885.2L343.4,885.6L344.0,886.0L344.5,886.4L345.1,886.8L345.6,887.1L346.1,887.5L346.7,887.8L347.2,888.2L347.8,888.5L348.3,888.8L348.9,889.1L349.4,889.4L349.9,889.7L350.5,890.0L351.0,890.2L351.6,890.5L352.1,890.7L352.7,891.0L353.2,891.2L353.7,891.4L354.3,891.6L354.8,891.8L355.4,892.0L355.9,892.1L356.5,892.3L357.0,892.4L357.5,892.6L358.1,892.7L358.6,892.8L359.2,892.9L359.7,893.0L360.3,893.1L360.8,893.2L361.3,893.2L361.9,893.3L362.4,893.3L363.0,893.4L363.5,893.4L364.0,893.4L364.6,893.4L365.1,893.4L365.7,893.4L366.2,893.3L366.8,893.3L367.3,893.2L367.8,893.2L368.4,893.1L368.9,893.0L369.5,892.9L370.0,892.8L370.6,892.7L371.1,892.6L371.6,892.4L372.2,892.3L372.7,892.1L373.3,891.9L373.8,891.8L374.4,891.6L374.9,891.4L375.4,891.2L376.0,890.9L376.5,890.7L377.1,890.5L377.6,890.2L378.2,889.9L378.7,889.7L379.2,889.4L379.8,889.1L380.3,888.8L380.9,888.5L381.4,888.1L382.0,887.8L382.5,887.5L383.0,887.1L383.6,886.7L384.1,886.4L384.7,886.0L385.2,885.6L385.8,885.2L386.3,884.8L386.8,884.3L387.4,883.9L387.9,883.5L388.5,883.0L389.0,882.6L389.6,882.1L390.1,881.6L390.6,881.1L391.2,880.6L391.7,880.1L392.3,879.6L392.8,879.1L393.4,878.5L393.9,878.0L394.4,877.5L395.0,876.9L395.5,876.3L396.1,875.7L396.6,875.2L397.2,874.6L397.7,874.0L398.2,873.4L398.8,872.7L399.3,872.1L399.9,871.5L400.4,870.8L401.0,870.2L401.5,869.5L402.0,868.9L402.6,868.2L403.1,867.5L403.7,866.8L404.2,866.1L404.8,865.4L405.3,864.7L405.8,864.0L406.4,863.3L406.9,862.6L407.5,861.8L408.0,861.1L408.6,860.3L409.1,859.6L409.6,858.8L410.2,858.1L410.7,857.3L411.3,856.5L411.8,855.7L412.3,854.9L412.9,854.1L413.4,853.3L414.0,852.5L414.5,851.7L415.1,850.9L415.6,850.1L416.1,849.2L416.7,848.4L417.2,847.6L417.8,846.7L418.3,845.9L418.9,845.0L419.4,844.2L419.9,843.3L420.5,842.5L421.0,841.6L421.6,840.7L422.1,839.8L422.7,839.0L423.2,838.1L423.7,837.2L424.3,836.3L424.8,835.4L425.4,834.5L425.9,833.6L426.5,832.7L427.0,831.8L427.5,830.9L428.1,830.0L428.6,829.1L429.2,828.1L429.7,827.2L430.3,826.3L430.8,825.4L431.3,824.5L431.9,823.5L432.4,822.6L433.0,821.7L433.5,820.7L434.1,819.8L434.6,818.9L435.1,817.9L435.7,817.0L436.2,816.1L436.8,815.1L437.3,814.2L437.9,813.3L438.4,812.3L438.9,811.4L439.5,810.5L440.0,809.5L440.6,808.6L441.1,807.6L441.7,806.7L442.2,805.8L442.7,804.8L443.3,803.9L443.8,803.0L444.4,802.0L444.9,801.1L445.5,800.2L446.0,799.2L446.5,798.3L447.1,797.4L447.6,796.5L448.2,795.5L448.7,794.6L449.3,793.7L449.8,792.8L450.3,791.9L450.9,791.0L451.4,790.1L452.0,789.2L452.5,788.3L453.1,787.4L453.6,786.5L454.1,785.6L454.7,784.7L455.2,783.8L455.8,782.9L456.3,782.0L456.9,781.2L457.4,780.3L457.9,779.4L458.5,778.6L459.0,777.7L459.6,776.9L460.1,776.0L460.7,775.2L461.2,774.3L461.7,773.5L462.3,772.7L462.8,771.8L463.4,771.0L463.9,770.2L464.4,769.4L465.0,768.6L465.5,767.8L466.1,767.0L466.6,766.2L467.2,765.4L467.7,764.6L468.2,763.9L468.8,763.1L469.3,762.4L469.9,761.6L470.4,760.9L471.0,760.1L471.5,759.4L472.0,758.7L472.6,757.9L473.1,757.2L473.7,756.5L474.2,755.8L474.8,755.1L475.3,754.5L475.8,753.8L476.4,753.1L476.9,752.5L477.5,751.8L478.0,751.2L478.6,750.5L479.1,749.9L479.6,749.3L480.2,748.7L480.7,748.1L481.3,747.5L481.8,746.9L482.4,746.3L482.9,745.7L483.4,745.2L484.0,744.6L484.5,744.1L485.1,743.5L485.6,743.0L486.2,742.5L486.7,742.0L487.2,741.5L487.8,741.0L488.3,740.5L488.9,740.0L489.4,739.6L490.0,739.1L490.5,738.7L491.0,738.2L491.6,737.8L492.1,737.4L492.7,737.0L493.2,736.6L493.8,736.2L494.3,735.8L494.8,735.4L495.4,735.1L495.9,734.7L496.5,734.4L497.0,734.1L497.6,733.7L498.1,733.4L498.6,733.1L499.2,732.9L499.7,732.6L500.3,732.3L500.8,732.0L501.4,731.8L501.9,731.6L502.4,731.3L503.0,731.1L503.5,730.9L504.1,730.7L504.6,730.5L505.2,730.4L505.7,730.2L506.2,730.0L506.8,729.9L507.3,729.8L507.9,729.6L508.4,729.5L509.0,729.4L509.5,729.3L510.0,729.3L510.6,729.2L511.1,729.1L511.7,729.1L512.2,729.0L512.7,729.0L513.3,729.0L513.8,729.0L514.4,729.0L514.9,729.0L515.5,729.0L516.0,729.1L516.5,729.1L517.1,729.2L517.6,729.3L518.2,729.3L518.7,729.4L519.3,729.5L519.8,729.7L520.3,729.8L520.9,729.9L521.4,730.1L522.0,730.2L522.5,730.4L523.1,730.5L523.6,730.7L524.1,730.9L524.7,731.1L525.2,731.4L525.8,731.6L526.3,731.8L526.9,732.1L527.4,732.3L527.9,732.6L528.5,732.9L529.0,733.2L529.6,733.5L530.1,733.8L530.7,734.1L531.2,734.4L531.7,734.8L532.3,735.1L532.8,735.5L533.4,735.8L533.9,736.2L534.5,736.6L535.0,737.0L535.5,737.4L536.1,737.8L536.6,738.3L537.2,738.7L537.7,739.2L538.3,739.6L538.8,740.1L539.3,740.5L539.9,741.0L540.4,741.5L541.0,742.0L541.5,742.5L542.1,743.1L542.6,743.6L543.1,744.1L543.7,744.7L544.2,745.2L544.8,745.8L545.3,746.4L545.9,746.9L546.4,747.5L546.9,748.1L547.5,748.7L548.0,749.3L548.6,750.0L549.1,750.6L549.7,751.2L550.2,751.9L550.7,752.5L551.3,753.2L551.8,753.9L552.4,754.5L552.9,755.2L553.5,755.9L554.0,756.6L554.5,757.3L555.1,758.0L555.6,758.7L556.2,759.5L556.7,760.2L557.3,760.9L557.8,761.7L558.3,762.4L558.9,763.2L559.4,764.0L560.0,764.7L560.5,765.5L561.0,766.3L561.6,767.1L562.1,767.9L562.7,768.7L563.2,769.5L563.8,770.3L564.3,771.1L564.8,771.9L565.4,772.7L565.9,773.6L566.5,774.4L567.0,775.2L567.6,776.1L568.1,776.9L568.6,777.8L569.2,778.7L569.7,779.5L570.3,780.4L570.8,781.3L571.4,782.1L571.9,783.0L572.4,783.9L573.0,784.8L573.5,785.7L574.1,786.6L574.6,787.5L575.2,788.4L575.7,789.3L576.2,790.2L576.8,791.1L577.3,792.0L577.9,792.9L578.4,793.8L579.0,794.7L579.5,795.6L580.0,796.6L580.6,797.5L581.1,798.4L581.7,799.3L582.2,800.3L582.8,801.2L583.3,802.1L583.8,803.1L584.4,804.0L584.9,804.9L585.5,805.9L586.0,806.8L586.6,807.7L587.1,808.7L587.6,809.6L588.2,810.5L588.7,811.5L589.3,812.4L589.8,813.4L590.4,814.3L590.9,815.2L591.4,816.2L592.0,817.1L592.5,818.0L593.1,819.0L593.6,819.9L594.2,820.8L594.7,821.8L595.2,822.7L595.8,823.6L596.3,824.5L596.9,825.5L597.4,826.4L598.0,827.3L598.5,828.2L599.0,829.1L599.6,830.1L600.1,831.0L600.7,831.9L601.2,832.8L601.8,833.7L602.3,834.6L602.8,835.5L603.4,836.4L603.9,837.3L604.5,838.2L605.0,839.0L605.6,839.9L606.1,840.8L606.6,841.7L607.2,842.5L607.7,843.4L608.3,844.3L608.8,845.1L609.4,846.0L609.9,846.8L610.4,847.7L611.0,848.5L611.5,849.3L612.1,850.2L612.6,851.0L613.1,851.8L613.7,852.6L614.2,853.4L614.8,854.2L615.3,855.0L615.9,855.8L616.4,856.6L616.9,857.4L617.5,858.1L618.0,858.9L618.6,859.7L619.1,860.4L619.7,861.2L620.2,861.9L620.7,862.6L621.3,863.4L621.8,864.1L622.4,864.8L622.9,865.5L623.5,866.2L624.0,866.9L624.5,867.6L625.1,868.3L625.6,868.9L626.2,869.6L626.7,870.3L627.3,870.9L627.8,871.5L628.3,872.2L628.9,872.8L629.4,873.4L630.0,874.0L630.5,874.6L631.1,875.2L631.6,875.8L632.1,876.4L632.7,876.9L633.2,877.5L633.8,878.1L634.3,878.6L634.9,879.1L635.4,879.7L635.9,880.2L636.5,880.7L637.0,881.2L637.6,881.7L638.1,882.1L638.7,882.6L639.2,883.1L639.7,883.5L640.3,884.0L640.8,884.4L641.4,884.8L641.9,885.2L642.5,885.6L643.0,886.0L643.5,886.4L644.1,886.8L644.6,887.1L645.2,887.5L645.7,887.8L646.3,888.2L646.8,888.5L647.3,888.8L647.9,889.1L648.4,889.4L649.0,889.7L649.5,890.0L650.1,890.2L650.6,890.5L651.1,890.7L651.7,891.0L652.2,891.2L652.8,891.4L653.3,891.6L653.9,891.8L654.4,892.0L654.9,892.1L655.5,892.3L656.0,892.4L656.6,892.6L657.1,892.7L657.7,892.8L658.2,892.9L658.7,893.0L659.3,893.1L659.8,893.2L660.4,893.2L660.9,893.3L661.4,893.3L662.0,893.4L662.5,893.4L663.1,893.4L663.6,893.4L664.2,893.4L664.7,893.4L665.2,893.3L665.8,893.3L666.3,893.2L666.9,893.2L667.4,893.1L668.0,893.0L668.5,892.9L669.0,892.8L669.6,892.7L670.1,892.6L670.7,892.4L671.2,892.3L671.8,892.1L672.3,891.9L672.8,891.8L673.4,891.6L673.9,891.4L674.5,891.2L675.0,890.9L675.6,890.7L676.1,890.5L676.6,890.2L677.2,889.9L677.7,889.7L678.3,889.4L678.8,889.1L679.4,888.8L679.9,888.5L680.4,888.1L681.0,887.8L681.5,887.5L682.1,887.1L682.6,886.7L683.2,886.4L683.7,886.0L684.2,885.6L684.8,885.2L685.3,884.8L685.9,884.3L686.4,883.9L687.0,883.5L687.5,883.0L688.0,882.6L688.6,882.1L689.1,881.6L689.7,881.1L690.2,880.6L690.8,880.1L691.3,879.6L691.8,879.1L692.4,878.5L692.9,878.0L693.5,877.5L694.0,876.9L694.6,876.3L695.1,875.7L695.6,875.2L696.2,874.6L696.7,874.0L697.3,873.4L697.8,872.7L698.4,872.1L698.9,871.5L699.4,870.8L700.0,870.2L700.5,869.5L701.1,868.9L701.6,868.2L702.2,867.5L702.7,866.8L703.2,866.1L703.8,865.4L704.3,864.7L704.9,864.0L705.4,863.3L706.0,862.6L706.5,861.8L707.0,861.1L707.6,860.3L708.1,859.6L708.7,858.8L709.2,858.1L709.7,857.3L710.3,856.5L710.8,855.7L711.4,854.9L711.9,854.1L712.5,853.3L713.0,852.5L713.5,851.7L714.1,850.9L714.6,850.1L715.2,849.2L715.7,848.4L716.3,847.6L716.8,846.7L717.3,845.9L717.9,845.0L718.4,844.2L719.0,843.3L719.5,842.5L720.1,841.6L720.6,840.7L721.1,839.8L721.7,839.0L722.2,838.1L722.8,837.2L723.3,836.3L723.9,835.4L724.4,834.5L724.9,833.6L725.5,832.7L726.0,831.8L726.6,830.9L727.1,830.0L727.7,829.1L728.2,828.1L728.7,827.2L729.3,826.3L729.8,825.4L730.4,824.5L730.9,823.5L731.5,822.6L732.0,821.7L732.5,820.7L733.1,819.8L733.6,818.9L734.2,817.9L734.7,817.0L735.3,816.1L735.8,815.1L736.3,814.2L736.9,813.3L737.4,812.3L738.0,811.4L738.5,810.5L739.1,809.5L739.6,808.6L740.1,807.6L740.7,806.7L741.2,805.8L741.8,804.8L742.3,803.9L742.9,803.0L743.4,802.0L743.9,801.1L744.5,800.2L745.0,799.2L745.6,798.3L746.1,797.4L746.7,796.5L747.2,795.5L747.7,794.6L748.3,793.7L748.8,792.8L749.4,791.9L749.9,791.0L750.5,790.1L751.0,789.2L751.5,788.3L752.1,787.4L752.6,786.5L753.2,785.6L753.7,784.7L754.3,783.8L754.8,782.9L755.3,782.0L755.9,781.2L756.4,780.3L757.0,779.4L757.5,778.6L758.0,777.7L758.6,776.9L759.1,776.0L759.7,775.2L760.2,774.3L760.8,773.5L761.3,772.7L761.8,771.8L762.4,771.0L762.9,770.2L763.5,769.4L764.0,768.6L764.6,767.8L765.1,767.0L765.6,766.2L766.2,765.4L766.7,764.6L767.3,763.9L767.8,763.1L768.4,762.4L768.9,761.6L769.4,760.9L770.0,760.1L770.5,759.4L771.1,758.7L771.6,757.9L772.2,757.2L772.7,756.5L773.2,755.8L773.8,755.1L774.3,754.5L774.9,753.8L775.4,753.1L776.0,752.5L776.5,751.8L777.0,751.2L777.6,750.5L778.1,749.9L778.7,749.3L779.2,748.7L779.8,748.1L780.3,747.5L780.8,746.9L781.4,746.3L781.9,745.7L782.5,745.2L783.0,744.6L783.6,744.1L784.1,743.5L784.6,743.0L785.2,742.5L785.7,742.0L786.3,741.5L786.8,741.0L787.4,740.5L787.9,740.0L788.4,739.6L789.0,739.1L789.5,738.7L790.1,738.2L790.6,737.8L791.2,737.4L791.7,737.0L792.2,736.6L792.8,736.2L793.3,735.8L793.9,735.4L794.4,735.1L795.0,734.7L795.5,734.4L796.0,734.1L796.6,733.7L797.1,733.4L797.7,733.1L798.2,732.9L798.8,732.6L799.3,732.3L799.8,732.0L800.4,731.8L800.9,731.6L801.5,731.3L802.0,731.1L802.6,730.9L803.1,730.7L803.6,730.5L804.2,730.4L804.7,730.2L805.3,730.0L805.8,729.9L806.4,729.8L806.9,729.6L807.4,729.5L808.0,729.4L808.5,729.3L809.1,729.3L809.6,729.2L810.1,729.1L810.7,729.1L811.2,729.0L811.8,729.0L812.3,729.0L812.9,729.0L813.4,729.0L813.9,729.0L814.5,729.0L815.0,729.1L815.6,729.1L816.1,729.2L816.7,729.3L817.2,729.3L817.7,729.4L818.3,729.5L818.8,729.7L819.4,729.8L819.9,729.9L820.5,730.1L821.0,730.2L821.5,730.4L822.1,730.5L822.6,730.7L823.2,730.9L823.7,731.1L824.3,731.4L824.8,731.6L825.3,731.8L825.9,732.1L826.4,732.3L827.0,732.6L827.5,732.9L828.1,733.2L828.6,733.5L829.1,733.8L829.7,734.1L830.2,734.4L830.8,734.8L831.3,735.1L831.9,735.5L832.4,735.8L832.9,736.2L833.5,736.6L834.0,737.0L834.6,737.4L835.1,737.8L835.7,738.3L836.2,738.7L836.7,739.2L837.3,739.6L837.8,740.1L838.4,740.5L838.9,741.0L839.5,741.5L840.0,742.0L840.5,742.5L841.1,743.1L841.6,743.6L842.2,744.1L842.7,744.7L843.3,745.2L843.8,745.8L844.3,746.4L844.9,746.9L845.4,747.5L846.0,748.1L846.5,748.7L847.1,749.3L847.6,750.0L848.1,750.6L848.7,751.2L849.2,751.9L849.8,752.5L850.3,753.2L850.9,753.9L851.4,754.5L851.9,755.2L852.5,755.9L853.0,756.6L853.6,757.3L854.1,758.0L854.7,758.7L855.2,759.5L855.7,760.2L856.3,760.9L856.8,761.7L857.4,762.4L857.9,763.2L858.4,764.0L859.0,764.7L859.5,765.5L860.1,766.3L860.6,767.1L861.2,767.9L861.7,768.7L862.2,769.5L862.8,770.3L863.3,771.1L863.9,771.9L864.4,772.7L865.0,773.6L865.5,774.4L866.0,775.2L866.6,776.1L867.1,776.9L867.7,777.8L868.2,778.7" fill="none" stroke="#0e62ae" stroke-width="3.2" stroke-linecap="butt" stroke-linejoin="round"/>
<text transform="translate(53.90,612.59) scale(1.0400,1)" font-size="23.50" fill="#e8000e">0.008</text>
<text transform="translate(53.56,715.79) scale(1.0400,1)" font-size="23.50" fill="#e8000e">0.004</text>
<text transform="translate(101.36,818.99) scale(1.0400,1)" font-size="23.50" fill="#e8000e">0</text>
<text transform="translate(45.42,922.19) scale(1.0400,1)" font-size="23.50" fill="#e8000e">-0.004</text>
<text transform="translate(45.76,1025.39) scale(1.0400,1)" font-size="23.50" fill="#e8000e">-0.008</text>
<text transform="translate(134.68,1061.42) scale(1.0200,1)" font-size="23.00" fill="#595959">0</text>
<text transform="translate(236.56,1061.42) scale(1.0200,1)" font-size="23.00" fill="#595959">20</text>
<text transform="translate(345.42,1061.42) scale(1.0200,1)" font-size="23.00" fill="#595959">40</text>
<text transform="translate(453.64,1061.42) scale(1.0200,1)" font-size="23.00" fill="#595959">60</text>
<text transform="translate(562.26,1061.42) scale(1.0200,1)" font-size="23.00" fill="#595959">80</text>
<text transform="translate(663.89,1061.42) scale(1.0200,1)" font-size="23.00" fill="#595959">100</text>
<text transform="translate(772.43,1061.42) scale(1.0200,1)" font-size="23.00" fill="#595959">120</text>
<text transform="translate(880.97,1061.42) scale(1.0200,1)" font-size="23.00" fill="#595959">140</text>
<text transform="translate(429.60,1103.40) scale(0.9880,1)" font-size="31.25" fill="#595959">Shot Number</text>
<text transform="translate(27.30,978.71) rotate(-90) scale(0.9750,1)" font-size="31.40" fill="#e8000e">Energy Modulation ΔE/E</text>
<text transform="translate(957.50,1038.55) rotate(-90) scale(0.9862,1)" font-size="31.54" fill="#0b66c0">RF Modulation Amplitude (a.u.)</text>
<text transform="translate(853.80,635.78) scale(1.0211,1)" font-size="30.05" fill="#000">(b)</text>
<path d="M137,650H189.3" stroke="#ffcccc" stroke-width="1"/>
<path d="M163.8,645.8l4,8.4h-8z" fill="#ff0000"/>
<text transform="translate(196.42,657.30) scale(1.0767,1)" font-size="22.38" fill="#595959">Measured energy jitter</text>
<path d="M459,649.7H515.7" stroke="#0e62ae" stroke-width="3.2"/>
<text transform="translate(519.76,657.60) scale(1.0760,1)" font-size="21.95" fill="#595959">RF modulation</text>
</svg></body></html>
